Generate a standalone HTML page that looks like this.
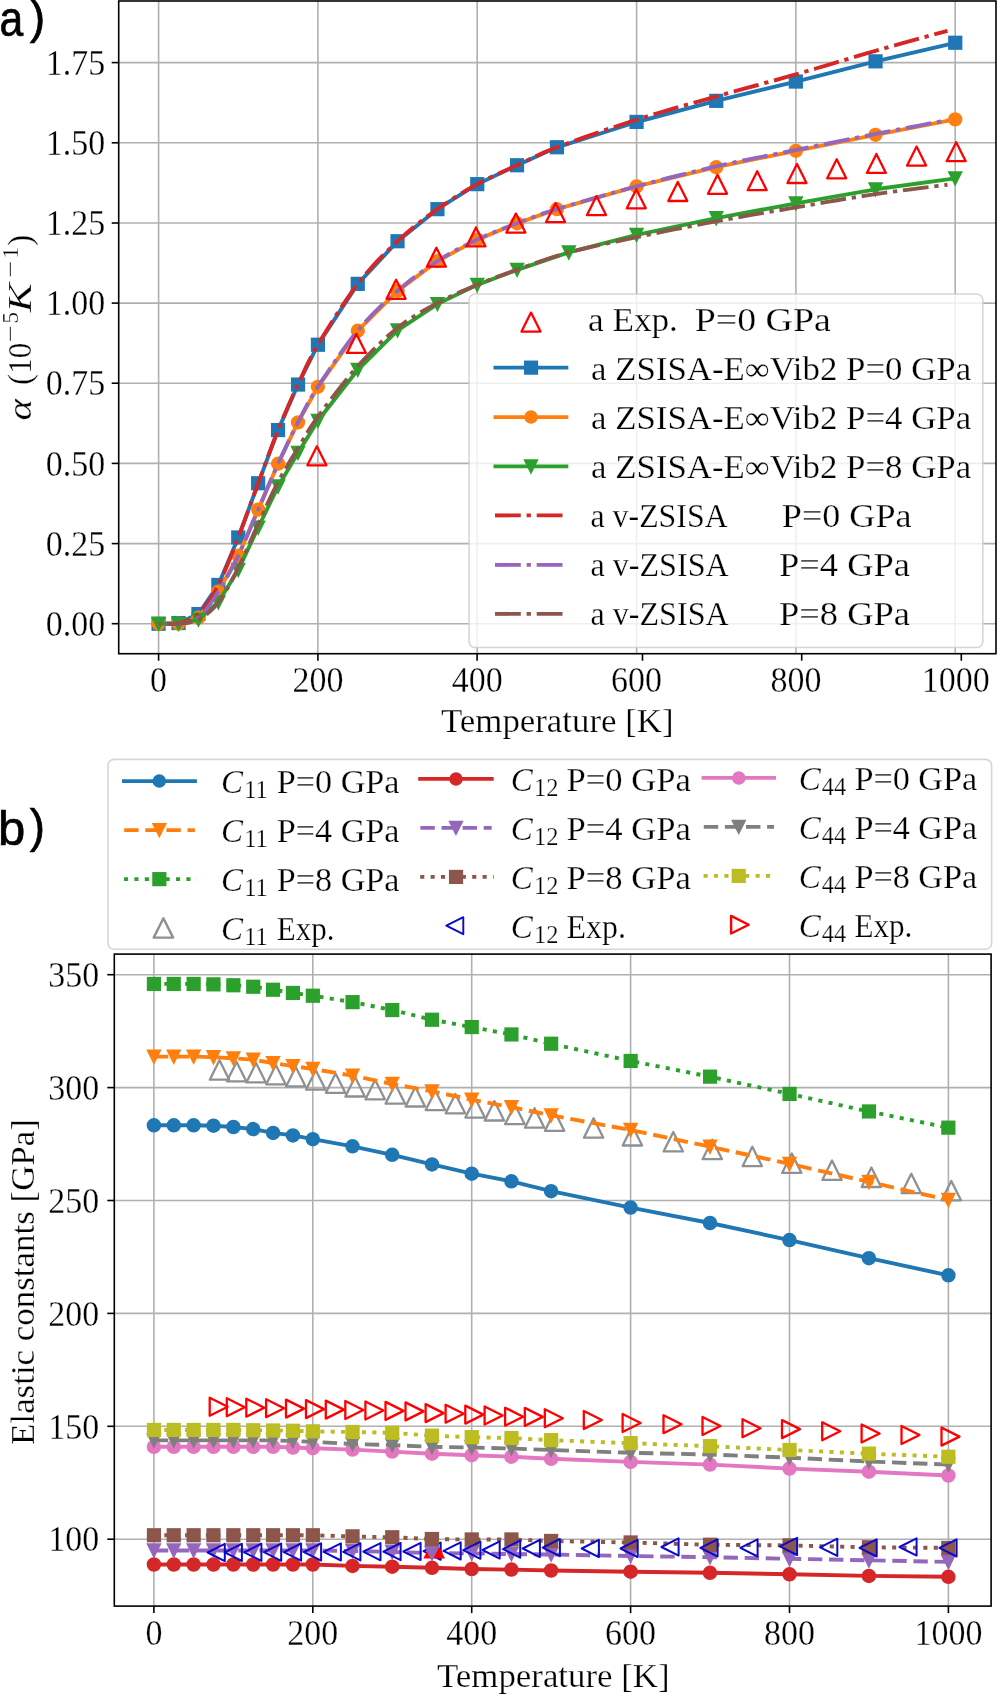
<!DOCTYPE html>
<html><head><meta charset="utf-8"><title>Thermal expansion and elastic constants</title>
<style>
html,body{margin:0;padding:0;background:#fff;}
body{width:997px;height:1696px;overflow:hidden;font-family:"Liberation Serif",serif;}
svg{display:block;will-change:transform;}
text{stroke:#fff;stroke-width:0.25px;}
</style></head><body>
<svg width="997" height="1696" viewBox="0 0 997 1696">
<defs>
<clipPath id="clipA"><rect x="118.7" y="0.8" width="877.3" height="652.9"/></clipPath>
<clipPath id="clipB"><rect x="114.3" y="954.1" width="876.8" height="652"/></clipPath>
</defs>
<rect x="0" y="0" width="997" height="1696" fill="#fff"/>
<g id="plotA">
<line x1="158.6" y1="1.0" x2="158.6" y2="653.7" stroke="#b0b0b0" stroke-width="1.6"/>
<line x1="317.9" y1="1.0" x2="317.9" y2="653.7" stroke="#b0b0b0" stroke-width="1.6"/>
<line x1="477.2" y1="1.0" x2="477.2" y2="653.7" stroke="#b0b0b0" stroke-width="1.6"/>
<line x1="636.6" y1="1.0" x2="636.6" y2="653.7" stroke="#b0b0b0" stroke-width="1.6"/>
<line x1="795.9" y1="1.0" x2="795.9" y2="653.7" stroke="#b0b0b0" stroke-width="1.6"/>
<line x1="955.2" y1="1.0" x2="955.2" y2="653.7" stroke="#b0b0b0" stroke-width="1.6"/>
<line x1="118.7" y1="623.7" x2="996.0" y2="623.7" stroke="#b0b0b0" stroke-width="1.6"/>
<line x1="118.7" y1="543.6" x2="996.0" y2="543.6" stroke="#b0b0b0" stroke-width="1.6"/>
<line x1="118.7" y1="463.4" x2="996.0" y2="463.4" stroke="#b0b0b0" stroke-width="1.6"/>
<line x1="118.7" y1="383.2" x2="996.0" y2="383.2" stroke="#b0b0b0" stroke-width="1.6"/>
<line x1="118.7" y1="303.1" x2="996.0" y2="303.1" stroke="#b0b0b0" stroke-width="1.6"/>
<line x1="118.7" y1="223" x2="996.0" y2="223" stroke="#b0b0b0" stroke-width="1.6"/>
<line x1="118.7" y1="142.8" x2="996.0" y2="142.8" stroke="#b0b0b0" stroke-width="1.6"/>
<line x1="118.7" y1="62.6" x2="996.0" y2="62.6" stroke="#b0b0b0" stroke-width="1.6"/>
<g clip-path="url(#clipA)">
<path d="M158.6 623.7 L178.5 623.1 L198.4 614.1 L218.3 584.9 L238.3 537.5 L258.2 483.3 L278.1 430.1 L298 384.5 L317.9 344.8 L357.8 283.9 L397.6 241.2 L437.4 209.2 L477.2 184.2 L517.1 165.2 L556.9 147.3 L636.6 122 L716.2 100.8 L795.9 81.6 L875.5 61.4 L955.2 42.8" fill="none" stroke="#1f77b4" stroke-width="3.9" stroke-linejoin="round" stroke-linecap="butt"/>
<rect x="152.4" y="617.6" width="12.3" height="12.3" fill="#1f77b4" stroke="#1f77b4" stroke-width="1.9"/>
<rect x="172.4" y="616.9" width="12.3" height="12.3" fill="#1f77b4" stroke="#1f77b4" stroke-width="1.9"/>
<rect x="192.3" y="607.9" width="12.3" height="12.3" fill="#1f77b4" stroke="#1f77b4" stroke-width="1.9"/>
<rect x="212.2" y="578.8" width="12.3" height="12.3" fill="#1f77b4" stroke="#1f77b4" stroke-width="1.9"/>
<rect x="232.1" y="531.3" width="12.3" height="12.3" fill="#1f77b4" stroke="#1f77b4" stroke-width="1.9"/>
<rect x="252" y="477.1" width="12.3" height="12.3" fill="#1f77b4" stroke="#1f77b4" stroke-width="1.9"/>
<rect x="271.9" y="423.9" width="12.3" height="12.3" fill="#1f77b4" stroke="#1f77b4" stroke-width="1.9"/>
<rect x="291.9" y="378.4" width="12.3" height="12.3" fill="#1f77b4" stroke="#1f77b4" stroke-width="1.9"/>
<rect x="311.8" y="338.6" width="12.3" height="12.3" fill="#1f77b4" stroke="#1f77b4" stroke-width="1.9"/>
<rect x="351.6" y="277.7" width="12.3" height="12.3" fill="#1f77b4" stroke="#1f77b4" stroke-width="1.9"/>
<rect x="391.4" y="235.1" width="12.3" height="12.3" fill="#1f77b4" stroke="#1f77b4" stroke-width="1.9"/>
<rect x="431.3" y="203" width="12.3" height="12.3" fill="#1f77b4" stroke="#1f77b4" stroke-width="1.9"/>
<rect x="471.1" y="178" width="12.3" height="12.3" fill="#1f77b4" stroke="#1f77b4" stroke-width="1.9"/>
<rect x="510.9" y="159.1" width="12.3" height="12.3" fill="#1f77b4" stroke="#1f77b4" stroke-width="1.9"/>
<rect x="550.8" y="141.1" width="12.3" height="12.3" fill="#1f77b4" stroke="#1f77b4" stroke-width="1.9"/>
<rect x="630.4" y="115.8" width="12.3" height="12.3" fill="#1f77b4" stroke="#1f77b4" stroke-width="1.9"/>
<rect x="710.1" y="94.7" width="12.3" height="12.3" fill="#1f77b4" stroke="#1f77b4" stroke-width="1.9"/>
<rect x="789.7" y="75.4" width="12.3" height="12.3" fill="#1f77b4" stroke="#1f77b4" stroke-width="1.9"/>
<rect x="869.4" y="55.2" width="12.3" height="12.3" fill="#1f77b4" stroke="#1f77b4" stroke-width="1.9"/>
<rect x="949.1" y="36.6" width="12.3" height="12.3" fill="#1f77b4" stroke="#1f77b4" stroke-width="1.9"/>
<path d="M158.6 623.7 L178.5 623.7 L198.4 617.6 L218.3 591.6 L238.3 555.7 L258.2 509.6 L278.1 463.7 L298 422.4 L317.9 386.8 L357.8 330.7 L397.6 290.9 L437.4 261.1 L477.2 239.6 L517.1 223.3 L556.9 209.2 L636.6 186.4 L716.2 167.2 L795.9 150.8 L875.5 134.8 L955.2 119.4" fill="none" stroke="#ff7f0e" stroke-width="3.9" stroke-linejoin="round" stroke-linecap="butt"/>
<circle cx="158.6" cy="623.7" r="6.2" fill="#ff7f0e" stroke="#ff7f0e" stroke-width="1.9"/>
<circle cx="178.5" cy="623.7" r="6.2" fill="#ff7f0e" stroke="#ff7f0e" stroke-width="1.9"/>
<circle cx="198.4" cy="617.6" r="6.2" fill="#ff7f0e" stroke="#ff7f0e" stroke-width="1.9"/>
<circle cx="218.3" cy="591.6" r="6.2" fill="#ff7f0e" stroke="#ff7f0e" stroke-width="1.9"/>
<circle cx="238.3" cy="555.7" r="6.2" fill="#ff7f0e" stroke="#ff7f0e" stroke-width="1.9"/>
<circle cx="258.2" cy="509.6" r="6.2" fill="#ff7f0e" stroke="#ff7f0e" stroke-width="1.9"/>
<circle cx="278.1" cy="463.7" r="6.2" fill="#ff7f0e" stroke="#ff7f0e" stroke-width="1.9"/>
<circle cx="298" cy="422.4" r="6.2" fill="#ff7f0e" stroke="#ff7f0e" stroke-width="1.9"/>
<circle cx="317.9" cy="386.8" r="6.2" fill="#ff7f0e" stroke="#ff7f0e" stroke-width="1.9"/>
<circle cx="357.8" cy="330.7" r="6.2" fill="#ff7f0e" stroke="#ff7f0e" stroke-width="1.9"/>
<circle cx="397.6" cy="290.9" r="6.2" fill="#ff7f0e" stroke="#ff7f0e" stroke-width="1.9"/>
<circle cx="437.4" cy="261.1" r="6.2" fill="#ff7f0e" stroke="#ff7f0e" stroke-width="1.9"/>
<circle cx="477.2" cy="239.6" r="6.2" fill="#ff7f0e" stroke="#ff7f0e" stroke-width="1.9"/>
<circle cx="517.1" cy="223.3" r="6.2" fill="#ff7f0e" stroke="#ff7f0e" stroke-width="1.9"/>
<circle cx="556.9" cy="209.2" r="6.2" fill="#ff7f0e" stroke="#ff7f0e" stroke-width="1.9"/>
<circle cx="636.6" cy="186.4" r="6.2" fill="#ff7f0e" stroke="#ff7f0e" stroke-width="1.9"/>
<circle cx="716.2" cy="167.2" r="6.2" fill="#ff7f0e" stroke="#ff7f0e" stroke-width="1.9"/>
<circle cx="795.9" cy="150.8" r="6.2" fill="#ff7f0e" stroke="#ff7f0e" stroke-width="1.9"/>
<circle cx="875.5" cy="134.8" r="6.2" fill="#ff7f0e" stroke="#ff7f0e" stroke-width="1.9"/>
<circle cx="955.2" cy="119.4" r="6.2" fill="#ff7f0e" stroke="#ff7f0e" stroke-width="1.9"/>
<path d="M158.6 623.7 L178.5 623.7 L198.4 619.5 L218.3 602.2 L238.3 569.8 L258.2 527.5 L278.1 486.5 L298 452.8 L317.9 420.8 L357.8 369.8 L397.6 330.4 L437.4 304.1 L477.2 284.8 L517.1 269.8 L568.8 252.4 L636.6 234.8 L716.2 218.1 L795.9 203.4 L875.5 189.3 L955.2 178.4" fill="none" stroke="#2ca02c" stroke-width="3.9" stroke-linejoin="round" stroke-linecap="butt"/>
<path d="M158.6 629.9L152.4 617.6L164.8 617.6Z" fill="#2ca02c" stroke="#2ca02c" stroke-width="1.9" stroke-linejoin="miter"/>
<path d="M178.5 629.9L172.4 617.6L184.7 617.6Z" fill="#2ca02c" stroke="#2ca02c" stroke-width="1.9" stroke-linejoin="miter"/>
<path d="M198.4 625.7L192.3 613.4L204.6 613.4Z" fill="#2ca02c" stroke="#2ca02c" stroke-width="1.9" stroke-linejoin="miter"/>
<path d="M218.3 608.4L212.2 596.1L224.5 596.1Z" fill="#2ca02c" stroke="#2ca02c" stroke-width="1.9" stroke-linejoin="miter"/>
<path d="M238.3 576L232.1 563.7L244.4 563.7Z" fill="#2ca02c" stroke="#2ca02c" stroke-width="1.9" stroke-linejoin="miter"/>
<path d="M258.2 533.7L252 521.4L264.3 521.4Z" fill="#2ca02c" stroke="#2ca02c" stroke-width="1.9" stroke-linejoin="miter"/>
<path d="M278.1 492.6L271.9 480.3L284.2 480.3Z" fill="#2ca02c" stroke="#2ca02c" stroke-width="1.9" stroke-linejoin="miter"/>
<path d="M298 459L291.9 446.7L304.2 446.7Z" fill="#2ca02c" stroke="#2ca02c" stroke-width="1.9" stroke-linejoin="miter"/>
<path d="M317.9 426.9L311.8 414.6L324.1 414.6Z" fill="#2ca02c" stroke="#2ca02c" stroke-width="1.9" stroke-linejoin="miter"/>
<path d="M357.8 375.9L351.6 363.6L363.9 363.6Z" fill="#2ca02c" stroke="#2ca02c" stroke-width="1.9" stroke-linejoin="miter"/>
<path d="M397.6 336.5L391.4 324.2L403.7 324.2Z" fill="#2ca02c" stroke="#2ca02c" stroke-width="1.9" stroke-linejoin="miter"/>
<path d="M437.4 310.2L431.3 297.9L443.6 297.9Z" fill="#2ca02c" stroke="#2ca02c" stroke-width="1.9" stroke-linejoin="miter"/>
<path d="M477.2 291L471.1 278.7L483.4 278.7Z" fill="#2ca02c" stroke="#2ca02c" stroke-width="1.9" stroke-linejoin="miter"/>
<path d="M517.1 275.9L510.9 263.6L523.2 263.6Z" fill="#2ca02c" stroke="#2ca02c" stroke-width="1.9" stroke-linejoin="miter"/>
<path d="M568.8 258.6L562.7 246.3L575 246.3Z" fill="#2ca02c" stroke="#2ca02c" stroke-width="1.9" stroke-linejoin="miter"/>
<path d="M636.6 241L630.4 228.7L642.7 228.7Z" fill="#2ca02c" stroke="#2ca02c" stroke-width="1.9" stroke-linejoin="miter"/>
<path d="M716.2 224.3L710.1 212L722.4 212Z" fill="#2ca02c" stroke="#2ca02c" stroke-width="1.9" stroke-linejoin="miter"/>
<path d="M795.9 209.5L789.7 197.2L802 197.2Z" fill="#2ca02c" stroke="#2ca02c" stroke-width="1.9" stroke-linejoin="miter"/>
<path d="M875.5 195.4L869.4 183.1L881.7 183.1Z" fill="#2ca02c" stroke="#2ca02c" stroke-width="1.9" stroke-linejoin="miter"/>
<path d="M955.2 184.5L949.1 172.2L961.4 172.2Z" fill="#2ca02c" stroke="#2ca02c" stroke-width="1.9" stroke-linejoin="miter"/>
<path d="M947.5 30.9 L940.9 32.7 L931.2 35.3 L920.3 38.3 L908.9 41.4 L897.3 44.6 L886 47.8 L875.5 50.8 L865.6 53.7 L855.6 56.6 L845.7 59.6 L835.7 62.6 L825.8 65.6 L815.8 68.5 L805.8 71.5 L795.9 74.4 L785.9 77.2 L776 80 L766 82.7 L756 85.5 L746.1 88.2 L736.1 90.9 L726.2 93.7 L716.2 96.5 L706.3 99.3 L696.3 102.1 L686.3 104.9 L676.4 107.7 L666.4 110.6 L656.5 113.5 L646.5 116.5 L636.6 119.7 L626.3 123 L615.7 126.5 L604.9 130.1 L594.2 133.8 L583.9 137.4 L574 141 L565 144.3 L556.9 147.3 L550 150 L544.1 152.4 L539 154.7 L534.5 156.8 L530.3 158.9 L526.1 160.9 L521.8 163 L517.1 165.2 L512.1 167.5 L507.1 169.8 L502.1 172 L497.2 174.3 L492.2 176.6 L487.2 179 L482.2 181.5 L477.2 184.2 L472.3 186.9 L467.3 189.8 L462.3 192.8 L457.3 195.8 L452.3 199 L447.4 202.3 L442.4 205.7 L437.4 209.2 L432.4 212.8 L427.5 216.4 L422.5 220.2 L417.5 224.1 L412.5 228.1 L407.5 232.3 L402.6 236.7 L397.6 241.2 L392.6 245.9 L387.6 250.7 L382.6 255.6 L377.7 260.7 L372.7 266.1 L367.7 271.7 L362.7 277.6 L357.7 283.9 L352.6 290.7 L347.3 298.3 L341.9 306.3 L336.6 314.5 L331.4 322.7 L326.5 330.6 L321.9 338.1 L317.9 344.8 L314.5 350.7 L311.5 356.1 L309 361 L306.7 365.6 L304.6 370.1 L302.5 374.7 L300.4 379.4 L298 384.5 L295.5 389.9 L293 395.3 L290.5 400.8 L288 406.5 L285.6 412.2 L283.1 418 L280.6 424 L278.1 430.1 L275.6 436.3 L273.1 442.8 L270.6 449.4 L268.1 456.1 L265.6 462.9 L263.2 469.7 L260.7 476.5 L258.2 483.3 L255.7 490 L253.2 496.9 L250.7 503.8 L248.2 510.7 L245.7 517.6 L243.2 524.4 L240.7 531 L238.3 537.5 L235.8 543.8 L233.3 550.2 L230.8 556.5 L228.3 562.7 L225.8 568.7 L223.3 574.5 L220.8 579.9 L218.3 584.9 L215.9 589.6 L213.4 594 L210.9 598.1 L208.4 601.9 L205.9 605.4 L203.4 608.6 L200.9 611.5 L198.4 614.1 L195.9 616.2 L193.5 617.9 L191 619.3 L188.5 620.4 L186 621.2 L183.5 621.9 L181 622.5 L178.5 623.1 L175.9 623.5 L173.1 623.8 L170.2 623.9 L167.3 623.9 L164.6 623.9 L162.2 623.8 L160.1 623.7 L158.6 623.7" fill="none" stroke="#d62728" stroke-width="3.9" stroke-dasharray="25.8 5.8 4.3 5.8" stroke-linejoin="round" stroke-linecap="butt" stroke-dashoffset="12.1"/>
<path d="M947.5 120.1 L940.9 121.3 L931.2 123.2 L920.3 125.3 L908.9 127.5 L897.3 129.7 L886 131.9 L875.5 134 L865.6 136 L855.6 137.9 L845.7 139.9 L835.7 141.9 L825.8 144 L815.8 146 L805.8 148 L795.9 150 L785.9 152 L776 154 L766 156 L756 157.9 L746.1 160 L736.1 162 L726.2 164.1 L716.2 166.4 L706.3 168.7 L696.3 171.1 L686.3 173.5 L676.4 176 L666.4 178.5 L656.5 181.1 L646.5 183.7 L636.6 186.4 L626.3 189.2 L615.7 192.1 L604.9 195.1 L594.2 198.2 L583.9 201.1 L574 204 L565 206.7 L556.9 209.2 L550 211.3 L544.1 213.2 L539 215 L534.5 216.6 L530.3 218.2 L526.1 219.8 L521.8 221.5 L517.1 223.3 L512.1 225.2 L507.1 227.1 L502.1 229 L497.2 231 L492.2 233 L487.2 235.1 L482.2 237.3 L477.2 239.6 L472.3 242 L467.3 244.4 L462.3 246.9 L457.3 249.5 L452.3 252.2 L447.4 255 L442.4 258 L437.4 261.1 L432.4 264.4 L427.5 267.7 L422.5 271.2 L417.5 274.9 L412.5 278.6 L407.5 282.6 L402.6 286.7 L397.6 290.9 L392.6 295.3 L387.6 299.8 L382.6 304.4 L377.7 309.2 L372.7 314.1 L367.7 319.4 L362.7 324.9 L357.7 330.7 L352.6 337 L347.3 344 L341.9 351.4 L336.6 359 L331.4 366.5 L326.5 373.8 L321.9 380.6 L317.9 386.8 L314.5 392.2 L311.5 397 L309 401.4 L306.7 405.5 L304.6 409.5 L302.5 413.5 L300.4 417.8 L298 422.4 L295.5 427.2 L293 432.2 L290.5 437.3 L288 442.4 L285.6 447.6 L283.1 452.9 L280.6 458.3 L278.1 463.7 L275.6 469.2 L273.1 474.9 L270.6 480.6 L268.1 486.3 L265.6 492.2 L263.2 498 L260.7 503.8 L258.2 509.6 L255.7 515.4 L253.2 521.3 L250.7 527.3 L248.2 533.3 L245.7 539.2 L243.2 544.9 L240.7 550.5 L238.3 555.7 L235.8 560.8 L233.3 565.7 L230.8 570.4 L228.3 574.9 L225.8 579.4 L223.3 583.6 L220.8 587.7 L218.3 591.6 L215.9 595.5 L213.4 599.3 L210.9 603 L208.4 606.5 L205.9 609.8 L203.4 612.7 L200.9 615.4 L198.4 617.6 L195.9 619.4 L193.5 620.7 L191 621.6 L188.5 622.3 L186 622.7 L183.5 623.1 L181 623.4 L178.5 623.7 L175.9 624 L173.1 624.1 L170.2 624.1 L167.3 624.1 L164.6 624 L162.2 623.8 L160.1 623.7 L158.6 623.7" fill="none" stroke="#9467bd" stroke-width="3.9" stroke-dasharray="25.8 5.8 4.3 5.8" stroke-linejoin="round" stroke-linecap="butt" stroke-dashoffset="25.1"/>
<path d="M947.5 184.8 L940.9 185.6 L931.2 186.8 L920.3 188.1 L908.9 189.6 L897.3 191.1 L886 192.6 L875.5 194.1 L865.6 195.6 L855.6 197.2 L845.7 198.8 L835.7 200.5 L825.8 202.2 L815.8 204 L805.8 205.7 L795.9 207.4 L785.9 209.1 L776 210.8 L766 212.5 L756 214.2 L746.1 215.9 L736.1 217.7 L726.2 219.5 L716.2 221.3 L706.2 223.2 L696 225.2 L685.8 227.2 L675.6 229.2 L665.6 231.2 L655.6 233.2 L645.9 235.2 L636.6 237.2 L627.4 239.1 L618.4 241 L609.6 242.9 L601 244.7 L592.5 246.6 L584.4 248.5 L576.5 250.4 L568.8 252.4 L561.5 254.5 L554.5 256.7 L547.7 258.9 L541.2 261.1 L534.9 263.3 L528.8 265.5 L522.9 267.7 L517.1 269.8 L511.5 271.7 L506.3 273.6 L501.3 275.4 L496.4 277.2 L491.7 279 L486.9 280.9 L482.1 282.8 L477.2 284.8 L472.3 286.9 L467.3 289 L462.3 291.1 L457.3 293.3 L452.3 295.6 L447.4 298 L442.4 300.4 L437.4 303.1 L432.4 305.8 L427.5 308.5 L422.5 311.3 L417.5 314.2 L412.5 317.3 L407.5 320.5 L402.6 324.1 L397.6 327.9 L392.6 331.9 L387.6 336.2 L382.6 340.7 L377.7 345.5 L372.7 350.4 L367.7 355.5 L362.7 360.8 L357.7 366.3 L352.6 372.1 L347.3 378.5 L341.9 385.2 L336.6 392 L331.4 398.7 L326.5 405.2 L321.9 411.3 L317.9 416.8 L314.5 421.6 L311.5 425.9 L309 429.9 L306.7 433.6 L304.6 437.2 L302.5 440.7 L300.4 444.4 L298 448.3 L295.5 452.4 L293 456.4 L290.5 460.4 L288 464.5 L285.6 468.7 L283.1 472.9 L280.6 477.4 L278.1 482 L275.6 486.8 L273.1 491.9 L270.6 497.1 L268.1 502.4 L265.6 507.8 L263.2 513.2 L260.7 518.6 L258.2 524 L255.7 529.5 L253.2 535.1 L250.7 540.7 L248.2 546.4 L245.7 552 L243.2 557.5 L240.7 562.8 L238.3 567.8 L235.8 572.7 L233.3 577.5 L230.8 582.2 L228.3 586.7 L225.8 591 L223.3 595 L220.8 598.8 L218.3 602.2 L215.9 605.3 L213.4 608.1 L210.9 610.5 L208.4 612.8 L205.9 614.8 L203.4 616.5 L200.9 618.1 L198.4 619.5 L195.9 620.7 L193.5 621.6 L191 622.2 L188.5 622.7 L186 623 L183.5 623.3 L181 623.5 L178.5 623.7 L175.9 623.9 L173.1 624 L170.2 624 L167.3 624 L164.6 623.9 L162.2 623.8 L160.1 623.7 L158.6 623.7" fill="none" stroke="#8c564b" stroke-width="3.9" stroke-dasharray="25.8 5.8 4.3 5.8" stroke-linejoin="round" stroke-linecap="butt" stroke-dashoffset="22.6"/>
<path d="M316.9 446.3L307.4 465.3L326.4 465.3Z" fill="none" stroke="#ff0000" stroke-width="2.3" stroke-linejoin="round"/>
<path d="M356.4 333.9L346.9 352.9L365.9 352.9Z" fill="none" stroke="#ff0000" stroke-width="2.3" stroke-linejoin="round"/>
<path d="M396.1 279.8L386.6 298.8L405.6 298.8Z" fill="none" stroke="#ff0000" stroke-width="2.3" stroke-linejoin="round"/>
<path d="M436.4 247.7L426.9 266.7L445.9 266.7Z" fill="none" stroke="#ff0000" stroke-width="2.3" stroke-linejoin="round"/>
<path d="M476 227.4L466.5 246.4L485.5 246.4Z" fill="none" stroke="#ff0000" stroke-width="2.3" stroke-linejoin="round"/>
<path d="M515.9 213.6L506.4 232.6L525.4 232.6Z" fill="none" stroke="#ff0000" stroke-width="2.3" stroke-linejoin="round"/>
<path d="M555.6 203.1L546.1 222.1L565.1 222.1Z" fill="none" stroke="#ff0000" stroke-width="2.3" stroke-linejoin="round"/>
<path d="M596.5 196.1L587 215.1L606 215.1Z" fill="none" stroke="#ff0000" stroke-width="2.3" stroke-linejoin="round"/>
<path d="M636.3 189.3L626.8 208.3L645.8 208.3Z" fill="none" stroke="#ff0000" stroke-width="2.3" stroke-linejoin="round"/>
<path d="M677.8 182L668.3 201L687.3 201Z" fill="none" stroke="#ff0000" stroke-width="2.3" stroke-linejoin="round"/>
<path d="M717.5 174.8L708 193.8L727 193.8Z" fill="none" stroke="#ff0000" stroke-width="2.3" stroke-linejoin="round"/>
<path d="M757.2 171.2L747.7 190.2L766.7 190.2Z" fill="none" stroke="#ff0000" stroke-width="2.3" stroke-linejoin="round"/>
<path d="M797 164L787.5 183L806.5 183Z" fill="none" stroke="#ff0000" stroke-width="2.3" stroke-linejoin="round"/>
<path d="M836.7 159.3L827.2 178.3L846.2 178.3Z" fill="none" stroke="#ff0000" stroke-width="2.3" stroke-linejoin="round"/>
<path d="M876.4 153.9L866.9 172.9L885.9 172.9Z" fill="none" stroke="#ff0000" stroke-width="2.3" stroke-linejoin="round"/>
<path d="M916.6 146.6L907.1 165.6L926.1 165.6Z" fill="none" stroke="#ff0000" stroke-width="2.3" stroke-linejoin="round"/>
<path d="M956.2 142.2L946.7 161.2L965.7 161.2Z" fill="none" stroke="#ff0000" stroke-width="2.3" stroke-linejoin="round"/>
</g>
<rect x="469.1" y="294" width="513.7" height="353.5" rx="6" ry="6" fill="#ffffff" fill-opacity="0.8" stroke="#cccccc" stroke-opacity="0.8" stroke-width="1.6"/>
<path d="M531 312.6L521.5 331.6L540.5 331.6Z" fill="none" stroke="#ff0000" stroke-width="2.3" stroke-linejoin="round"/>
<line x1="493.5" y1="367.6" x2="568.3" y2="367.6" stroke="#1f77b4" stroke-width="3.9"/>
<rect x="524.9" y="361.5" width="12.3" height="12.3" fill="#1f77b4" stroke="#1f77b4" stroke-width="1.9"/>
<line x1="493.5" y1="417.1" x2="568.3" y2="417.1" stroke="#ff7f0e" stroke-width="3.9"/>
<circle cx="531" cy="417.1" r="5.8" fill="#ff7f0e" stroke="#ff7f0e" stroke-width="1.9"/>
<line x1="493.5" y1="466.4" x2="568.3" y2="466.4" stroke="#2ca02c" stroke-width="3.9"/>
<path d="M531 472.5L524.9 460.2L537.1 460.2Z" fill="#2ca02c" stroke="#2ca02c" stroke-width="1.9" stroke-linejoin="miter"/>
<line x1="495.0" y1="515.4" x2="562.7" y2="515.4" stroke="#d62728" stroke-width="3.9" stroke-dasharray="25.8 5.8 4.3 5.8" stroke-dashoffset="0"/>
<line x1="495.0" y1="564.9" x2="562.7" y2="564.9" stroke="#9467bd" stroke-width="3.9" stroke-dasharray="25.8 5.8 4.3 5.8" stroke-dashoffset="0"/>
<line x1="495.0" y1="613.9" x2="562.7" y2="613.9" stroke="#8c564b" stroke-width="3.9" stroke-dasharray="25.8 5.8 4.3 5.8" stroke-dashoffset="0"/>
<text x="588" y="330.5" font-family='"Liberation Serif", serif' font-size="33" textLength="89.9" lengthAdjust="spacingAndGlyphs">a Exp.</text>
<text x="694.8" y="330.5" font-family='"Liberation Serif", serif' font-size="33" textLength="136" lengthAdjust="spacingAndGlyphs">P=0 GPa</text>
<text x="591" y="380" font-family='"Liberation Serif", serif' font-size="33" textLength="380.2" lengthAdjust="spacingAndGlyphs">a ZSISA-E∞Vib2 P=0 GPa</text>
<text x="591" y="428.5" font-family='"Liberation Serif", serif' font-size="33" textLength="380.2" lengthAdjust="spacingAndGlyphs">a ZSISA-E∞Vib2 P=4 GPa</text>
<text x="591" y="478.3" font-family='"Liberation Serif", serif' font-size="33" textLength="380.2" lengthAdjust="spacingAndGlyphs">a ZSISA-E∞Vib2 P=8 GPa</text>
<text x="590.5" y="526.9" font-family='"Liberation Serif", serif' font-size="33" textLength="137.2" lengthAdjust="spacingAndGlyphs">a v-ZSISA</text>
<text x="781.8" y="526.9" font-family='"Liberation Serif", serif' font-size="33" textLength="129.8" lengthAdjust="spacingAndGlyphs">P=0 GPa</text>
<text x="590.5" y="576" font-family='"Liberation Serif", serif' font-size="33" textLength="138.2" lengthAdjust="spacingAndGlyphs">a v-ZSISA</text>
<text x="779" y="576" font-family='"Liberation Serif", serif' font-size="33" textLength="130.9" lengthAdjust="spacingAndGlyphs">P=4 GPa</text>
<text x="590.5" y="625.1" font-family='"Liberation Serif", serif' font-size="33" textLength="138.2" lengthAdjust="spacingAndGlyphs">a v-ZSISA</text>
<text x="779" y="625.1" font-family='"Liberation Serif", serif' font-size="33" textLength="130.9" lengthAdjust="spacingAndGlyphs">P=8 GPa</text>
<rect x="118.7" y="1" width="877.3" height="652.7" fill="none" stroke="#000" stroke-width="1.6"/>
<line x1="158.6" y1="653.7" x2="158.6" y2="660.7" stroke="#000" stroke-width="1.6"/>
<g transform="translate(158.6 692.3) scale(1.03 1.07)"><text x="0" y="0" font-family='"Liberation Serif", serif' font-size="33" text-anchor="middle">0</text></g>
<line x1="317.9" y1="653.7" x2="317.9" y2="660.7" stroke="#000" stroke-width="1.6"/>
<g transform="translate(317.9 692.3) scale(1.03 1.07)"><text x="0" y="0" font-family='"Liberation Serif", serif' font-size="33" text-anchor="middle">200</text></g>
<line x1="477.1" y1="653.7" x2="477.1" y2="660.7" stroke="#000" stroke-width="1.6"/>
<g transform="translate(477.2 692.3) scale(1.03 1.07)"><text x="0" y="0" font-family='"Liberation Serif", serif' font-size="33" text-anchor="middle">400</text></g>
<line x1="642.5" y1="653.7" x2="642.5" y2="660.7" stroke="#000" stroke-width="1.6"/>
<g transform="translate(636.6 692.3) scale(1.03 1.07)"><text x="0" y="0" font-family='"Liberation Serif", serif' font-size="33" text-anchor="middle">600</text></g>
<line x1="801.7" y1="653.7" x2="801.7" y2="660.7" stroke="#000" stroke-width="1.6"/>
<g transform="translate(795.9 692.3) scale(1.03 1.07)"><text x="0" y="0" font-family='"Liberation Serif", serif' font-size="33" text-anchor="middle">800</text></g>
<line x1="961.3" y1="653.7" x2="961.3" y2="660.7" stroke="#000" stroke-width="1.6"/>
<g transform="translate(955.8 692.3) scale(1.03 1.07)"><text x="0" y="0" font-family='"Liberation Serif", serif' font-size="33" text-anchor="middle">1000</text></g>
<line x1="111.7" y1="623.7" x2="118.7" y2="623.7" stroke="#000" stroke-width="1.6"/>
<g transform="translate(105.3 635.9) scale(1.03 1.07)"><text x="0" y="0" font-family='"Liberation Serif", serif' font-size="33" text-anchor="end">0.00</text></g>
<line x1="111.7" y1="543.6" x2="118.7" y2="543.6" stroke="#000" stroke-width="1.6"/>
<g transform="translate(105.3 555.8) scale(1.03 1.07)"><text x="0" y="0" font-family='"Liberation Serif", serif' font-size="33" text-anchor="end">0.25</text></g>
<line x1="111.7" y1="463.4" x2="118.7" y2="463.4" stroke="#000" stroke-width="1.6"/>
<g transform="translate(105.3 475.6) scale(1.03 1.07)"><text x="0" y="0" font-family='"Liberation Serif", serif' font-size="33" text-anchor="end">0.50</text></g>
<line x1="111.7" y1="383.2" x2="118.7" y2="383.2" stroke="#000" stroke-width="1.6"/>
<g transform="translate(105.3 395.4) scale(1.03 1.07)"><text x="0" y="0" font-family='"Liberation Serif", serif' font-size="33" text-anchor="end">0.75</text></g>
<line x1="111.7" y1="303.1" x2="118.7" y2="303.1" stroke="#000" stroke-width="1.6"/>
<g transform="translate(105.3 315.3) scale(1.03 1.07)"><text x="0" y="0" font-family='"Liberation Serif", serif' font-size="33" text-anchor="end">1.00</text></g>
<line x1="111.7" y1="223" x2="118.7" y2="223" stroke="#000" stroke-width="1.6"/>
<g transform="translate(105.3 235.2) scale(1.03 1.07)"><text x="0" y="0" font-family='"Liberation Serif", serif' font-size="33" text-anchor="end">1.25</text></g>
<line x1="111.7" y1="142.8" x2="118.7" y2="142.8" stroke="#000" stroke-width="1.6"/>
<g transform="translate(105.3 155) scale(1.03 1.07)"><text x="0" y="0" font-family='"Liberation Serif", serif' font-size="33" text-anchor="end">1.50</text></g>
<line x1="111.7" y1="62.6" x2="118.7" y2="62.6" stroke="#000" stroke-width="1.6"/>
<g transform="translate(105.3 74.8) scale(1.03 1.07)"><text x="0" y="0" font-family='"Liberation Serif", serif' font-size="33" text-anchor="end">1.75</text></g>
<text x="441" y="732.2" font-family='"Liberation Serif", serif' font-size="33" textLength="232.5" lengthAdjust="spacingAndGlyphs">Temperature [K]</text>
<g transform="translate(30.8 419) rotate(-90)"><text x="-1.5" y="0" font-family='"Liberation Serif", serif' font-size="33" font-style="italic" textLength="21.5" lengthAdjust="spacingAndGlyphs">α</text><text x="34" y="0" font-family='"Liberation Serif", serif' font-size="33">(</text><text x="45.2" y="0" font-family='"Liberation Serif", serif' font-size="33" textLength="31" lengthAdjust="spacingAndGlyphs">10</text><text x="76.6" y="-13.1" font-family='"Liberation Serif", serif' font-size="23" textLength="17.6" lengthAdjust="spacingAndGlyphs">−</text><text x="95.4" y="-13.1" font-family='"Liberation Serif", serif' font-size="23">5</text><text x="106.5" y="0" font-family='"Liberation Serif", serif' font-size="33" font-style="italic" textLength="29.5" lengthAdjust="spacingAndGlyphs">K</text><text x="141" y="-13.1" font-family='"Liberation Serif", serif' font-size="23" textLength="17.6" lengthAdjust="spacingAndGlyphs">−</text><text x="160.6" y="-13.1" font-family='"Liberation Serif", serif' font-size="23">1</text><text x="173.2" y="0" font-family='"Liberation Serif", serif' font-size="33">)</text></g>
</g>
<g id="plotB">
<line x1="153.9" y1="954.1" x2="153.9" y2="1606.1" stroke="#b0b0b0" stroke-width="1.6"/>
<line x1="312.8" y1="954.1" x2="312.8" y2="1606.1" stroke="#b0b0b0" stroke-width="1.6"/>
<line x1="471.7" y1="954.1" x2="471.7" y2="1606.1" stroke="#b0b0b0" stroke-width="1.6"/>
<line x1="630.6" y1="954.1" x2="630.6" y2="1606.1" stroke="#b0b0b0" stroke-width="1.6"/>
<line x1="789.5" y1="954.1" x2="789.5" y2="1606.1" stroke="#b0b0b0" stroke-width="1.6"/>
<line x1="948.4" y1="954.1" x2="948.4" y2="1606.1" stroke="#b0b0b0" stroke-width="1.6"/>
<line x1="114.3" y1="1539.2" x2="991.1" y2="1539.2" stroke="#b0b0b0" stroke-width="1.6"/>
<line x1="114.3" y1="1426.3" x2="991.1" y2="1426.3" stroke="#b0b0b0" stroke-width="1.6"/>
<line x1="114.3" y1="1313.4" x2="991.1" y2="1313.4" stroke="#b0b0b0" stroke-width="1.6"/>
<line x1="114.3" y1="1200.5" x2="991.1" y2="1200.5" stroke="#b0b0b0" stroke-width="1.6"/>
<line x1="114.3" y1="1087.6" x2="991.1" y2="1087.6" stroke="#b0b0b0" stroke-width="1.6"/>
<line x1="114.3" y1="974.7" x2="991.1" y2="974.7" stroke="#b0b0b0" stroke-width="1.6"/>
<g clip-path="url(#clipB)">
<path d="M219.5 1060.3L209.8 1079.7L229.2 1079.7Z" fill="none" stroke="#8e9093" stroke-width="2.3" stroke-linejoin="round"/>
<path d="M236.6 1061.9L226.9 1081.3L246.3 1081.3Z" fill="none" stroke="#8e9093" stroke-width="2.3" stroke-linejoin="round"/>
<path d="M256.1 1063L246.4 1082.4L265.8 1082.4Z" fill="none" stroke="#8e9093" stroke-width="2.3" stroke-linejoin="round"/>
<path d="M275.9 1064.9L266.2 1084.3L285.6 1084.3Z" fill="none" stroke="#8e9093" stroke-width="2.3" stroke-linejoin="round"/>
<path d="M295.8 1067L286.1 1086.4L305.5 1086.4Z" fill="none" stroke="#8e9093" stroke-width="2.3" stroke-linejoin="round"/>
<path d="M315.8 1070.2L306.1 1089.6L325.5 1089.6Z" fill="none" stroke="#8e9093" stroke-width="2.3" stroke-linejoin="round"/>
<path d="M335.6 1073.4L325.9 1092.8L345.3 1092.8Z" fill="none" stroke="#8e9093" stroke-width="2.3" stroke-linejoin="round"/>
<path d="M355.1 1077.1L345.4 1096.5L364.8 1096.5Z" fill="none" stroke="#8e9093" stroke-width="2.3" stroke-linejoin="round"/>
<path d="M375.2 1079.9L365.5 1099.3L384.9 1099.3Z" fill="none" stroke="#8e9093" stroke-width="2.3" stroke-linejoin="round"/>
<path d="M395.3 1084.2L385.6 1103.6L405 1103.6Z" fill="none" stroke="#8e9093" stroke-width="2.3" stroke-linejoin="round"/>
<path d="M415.3 1087.1L405.6 1106.5L425 1106.5Z" fill="none" stroke="#8e9093" stroke-width="2.3" stroke-linejoin="round"/>
<path d="M435.4 1090.7L425.7 1110.1L445.1 1110.1Z" fill="none" stroke="#8e9093" stroke-width="2.3" stroke-linejoin="round"/>
<path d="M455.4 1093.9L445.7 1113.3L465.1 1113.3Z" fill="none" stroke="#8e9093" stroke-width="2.3" stroke-linejoin="round"/>
<path d="M475.1 1098.2L465.4 1117.6L484.8 1117.6Z" fill="none" stroke="#8e9093" stroke-width="2.3" stroke-linejoin="round"/>
<path d="M494.4 1101.1L484.7 1120.5L504.1 1120.5Z" fill="none" stroke="#8e9093" stroke-width="2.3" stroke-linejoin="round"/>
<path d="M514.9 1104.7L505.2 1124.1L524.6 1124.1Z" fill="none" stroke="#8e9093" stroke-width="2.3" stroke-linejoin="round"/>
<path d="M534.6 1108.3L524.9 1127.7L544.3 1127.7Z" fill="none" stroke="#8e9093" stroke-width="2.3" stroke-linejoin="round"/>
<path d="M554.6 1111.4L544.9 1130.8L564.3 1130.8Z" fill="none" stroke="#8e9093" stroke-width="2.3" stroke-linejoin="round"/>
<path d="M593.6 1118.3L583.9 1137.7L603.3 1137.7Z" fill="none" stroke="#8e9093" stroke-width="2.3" stroke-linejoin="round"/>
<path d="M632.4 1126.1L622.7 1145.5L642.1 1145.5Z" fill="none" stroke="#8e9093" stroke-width="2.3" stroke-linejoin="round"/>
<path d="M673.3 1132L663.6 1151.4L683 1151.4Z" fill="none" stroke="#8e9093" stroke-width="2.3" stroke-linejoin="round"/>
<path d="M712.3 1139.8L702.6 1159.2L722 1159.2Z" fill="none" stroke="#8e9093" stroke-width="2.3" stroke-linejoin="round"/>
<path d="M752.3 1146.8L742.6 1166.2L762 1166.2Z" fill="none" stroke="#8e9093" stroke-width="2.3" stroke-linejoin="round"/>
<path d="M791.8 1153.5L782.1 1172.9L801.5 1172.9Z" fill="none" stroke="#8e9093" stroke-width="2.3" stroke-linejoin="round"/>
<path d="M832 1160.5L822.3 1179.9L841.7 1179.9Z" fill="none" stroke="#8e9093" stroke-width="2.3" stroke-linejoin="round"/>
<path d="M871.4 1167.6L861.7 1187L881.1 1187Z" fill="none" stroke="#8e9093" stroke-width="2.3" stroke-linejoin="round"/>
<path d="M911.3 1173.8L901.6 1193.2L921 1193.2Z" fill="none" stroke="#8e9093" stroke-width="2.3" stroke-linejoin="round"/>
<path d="M951.3 1180.9L941.6 1200.3L961 1200.3Z" fill="none" stroke="#8e9093" stroke-width="2.3" stroke-linejoin="round"/>
<path d="M153.9 1125.3 L173.8 1125.3 L193.6 1125.3 L213.5 1125.7 L233.4 1127 L253.2 1129.1 L273.1 1132.9 L292.9 1135.4 L312.8 1139.2 L352.5 1146.3 L392.2 1154.8 L432 1164.4 L471.7 1173.7 L511.4 1181.3 L551.1 1191.2 L630.6 1207.6 L710 1223 L789.5 1240.1 L868.9 1258.2 L948.4 1275.3" fill="none" stroke="#1f77b4" stroke-width="3.9" stroke-linejoin="round" stroke-linecap="butt"/>
<circle cx="153.9" cy="1125.3" r="6.3" fill="#1f77b4" stroke="#1f77b4" stroke-width="1.9"/>
<circle cx="173.8" cy="1125.3" r="6.3" fill="#1f77b4" stroke="#1f77b4" stroke-width="1.9"/>
<circle cx="193.6" cy="1125.3" r="6.3" fill="#1f77b4" stroke="#1f77b4" stroke-width="1.9"/>
<circle cx="213.5" cy="1125.7" r="6.3" fill="#1f77b4" stroke="#1f77b4" stroke-width="1.9"/>
<circle cx="233.4" cy="1127" r="6.3" fill="#1f77b4" stroke="#1f77b4" stroke-width="1.9"/>
<circle cx="253.2" cy="1129.1" r="6.3" fill="#1f77b4" stroke="#1f77b4" stroke-width="1.9"/>
<circle cx="273.1" cy="1132.9" r="6.3" fill="#1f77b4" stroke="#1f77b4" stroke-width="1.9"/>
<circle cx="292.9" cy="1135.4" r="6.3" fill="#1f77b4" stroke="#1f77b4" stroke-width="1.9"/>
<circle cx="312.8" cy="1139.2" r="6.3" fill="#1f77b4" stroke="#1f77b4" stroke-width="1.9"/>
<circle cx="352.5" cy="1146.3" r="6.3" fill="#1f77b4" stroke="#1f77b4" stroke-width="1.9"/>
<circle cx="392.2" cy="1154.8" r="6.3" fill="#1f77b4" stroke="#1f77b4" stroke-width="1.9"/>
<circle cx="432" cy="1164.4" r="6.3" fill="#1f77b4" stroke="#1f77b4" stroke-width="1.9"/>
<circle cx="471.7" cy="1173.7" r="6.3" fill="#1f77b4" stroke="#1f77b4" stroke-width="1.9"/>
<circle cx="511.4" cy="1181.3" r="6.3" fill="#1f77b4" stroke="#1f77b4" stroke-width="1.9"/>
<circle cx="551.1" cy="1191.2" r="6.3" fill="#1f77b4" stroke="#1f77b4" stroke-width="1.9"/>
<circle cx="630.6" cy="1207.6" r="6.3" fill="#1f77b4" stroke="#1f77b4" stroke-width="1.9"/>
<circle cx="710" cy="1223" r="6.3" fill="#1f77b4" stroke="#1f77b4" stroke-width="1.9"/>
<circle cx="789.5" cy="1240.1" r="6.3" fill="#1f77b4" stroke="#1f77b4" stroke-width="1.9"/>
<circle cx="868.9" cy="1258.2" r="6.3" fill="#1f77b4" stroke="#1f77b4" stroke-width="1.9"/>
<circle cx="948.4" cy="1275.3" r="6.3" fill="#1f77b4" stroke="#1f77b4" stroke-width="1.9"/>
<path d="M153.9 1056.6 L173.8 1056.6 L193.6 1056.6 L213.5 1057.2 L233.4 1058.3 L253.2 1059.7 L273.1 1063.1 L292.9 1066.1 L312.8 1069 L352.5 1075.7 L392.2 1084 L432 1091.3 L471.7 1099.7 L511.4 1107.2 L551.1 1115.3 L630.6 1130 L710 1146.7 L789.5 1163.8 L868.9 1181.9 L948.4 1200" fill="none" stroke="#ff7f0e" stroke-width="3.9" stroke-dasharray="14.4 6.7" stroke-linejoin="round" stroke-linecap="butt"/>
<path d="M153.9 1062.8L147.8 1050.4L160.1 1050.4Z" fill="#ff7f0e" stroke="#ff7f0e" stroke-width="1.9" stroke-linejoin="miter"/>
<path d="M173.8 1062.8L167.6 1050.4L179.9 1050.4Z" fill="#ff7f0e" stroke="#ff7f0e" stroke-width="1.9" stroke-linejoin="miter"/>
<path d="M193.6 1062.8L187.5 1050.4L199.8 1050.4Z" fill="#ff7f0e" stroke="#ff7f0e" stroke-width="1.9" stroke-linejoin="miter"/>
<path d="M213.5 1063.4L207.3 1051L219.6 1051Z" fill="#ff7f0e" stroke="#ff7f0e" stroke-width="1.9" stroke-linejoin="miter"/>
<path d="M233.4 1064.5L227.2 1052.1L239.5 1052.1Z" fill="#ff7f0e" stroke="#ff7f0e" stroke-width="1.9" stroke-linejoin="miter"/>
<path d="M253.2 1065.9L247.1 1053.5L259.4 1053.5Z" fill="#ff7f0e" stroke="#ff7f0e" stroke-width="1.9" stroke-linejoin="miter"/>
<path d="M273.1 1069.2L266.9 1056.9L279.2 1056.9Z" fill="#ff7f0e" stroke="#ff7f0e" stroke-width="1.9" stroke-linejoin="miter"/>
<path d="M292.9 1072.2L286.8 1059.9L299.1 1059.9Z" fill="#ff7f0e" stroke="#ff7f0e" stroke-width="1.9" stroke-linejoin="miter"/>
<path d="M312.8 1075.2L306.7 1062.8L318.9 1062.8Z" fill="#ff7f0e" stroke="#ff7f0e" stroke-width="1.9" stroke-linejoin="miter"/>
<path d="M352.5 1081.9L346.4 1069.5L358.7 1069.5Z" fill="#ff7f0e" stroke="#ff7f0e" stroke-width="1.9" stroke-linejoin="miter"/>
<path d="M392.2 1090.2L386.1 1077.8L398.4 1077.8Z" fill="#ff7f0e" stroke="#ff7f0e" stroke-width="1.9" stroke-linejoin="miter"/>
<path d="M432 1097.5L425.8 1085.1L438.1 1085.1Z" fill="#ff7f0e" stroke="#ff7f0e" stroke-width="1.9" stroke-linejoin="miter"/>
<path d="M471.7 1105.9L465.6 1093.5L477.9 1093.5Z" fill="#ff7f0e" stroke="#ff7f0e" stroke-width="1.9" stroke-linejoin="miter"/>
<path d="M511.4 1113.4L505.3 1101L517.6 1101Z" fill="#ff7f0e" stroke="#ff7f0e" stroke-width="1.9" stroke-linejoin="miter"/>
<path d="M551.1 1121.5L545 1109.1L557.3 1109.1Z" fill="#ff7f0e" stroke="#ff7f0e" stroke-width="1.9" stroke-linejoin="miter"/>
<path d="M630.6 1136.2L624.5 1123.8L636.8 1123.8Z" fill="#ff7f0e" stroke="#ff7f0e" stroke-width="1.9" stroke-linejoin="miter"/>
<path d="M710 1152.9L703.9 1140.5L716.2 1140.5Z" fill="#ff7f0e" stroke="#ff7f0e" stroke-width="1.9" stroke-linejoin="miter"/>
<path d="M789.5 1170L783.4 1157.6L795.6 1157.6Z" fill="#ff7f0e" stroke="#ff7f0e" stroke-width="1.9" stroke-linejoin="miter"/>
<path d="M868.9 1188.1L862.8 1175.8L875.1 1175.8Z" fill="#ff7f0e" stroke="#ff7f0e" stroke-width="1.9" stroke-linejoin="miter"/>
<path d="M948.4 1206.2L942.2 1193.8L954.5 1193.8Z" fill="#ff7f0e" stroke="#ff7f0e" stroke-width="1.9" stroke-linejoin="miter"/>
<path d="M153.9 983.9 L173.8 983.9 L193.6 983.9 L213.5 984.4 L233.4 985.3 L253.2 986.7 L273.1 989.8 L292.9 992.9 L312.8 995.7 L352.5 1002.1 L392.2 1010 L432 1019.7 L471.7 1027.1 L511.4 1034.5 L551.1 1043.8 L630.6 1060.9 L710 1076.7 L789.5 1093.9 L868.9 1111.5 L948.4 1127.7" fill="none" stroke="#2ca02c" stroke-width="3.9" stroke-dasharray="4.1 6.3" stroke-linejoin="round" stroke-linecap="butt"/>
<rect x="147.8" y="977.8" width="12.3" height="12.3" fill="#2ca02c" stroke="#2ca02c" stroke-width="1.9"/>
<rect x="167.6" y="977.8" width="12.3" height="12.3" fill="#2ca02c" stroke="#2ca02c" stroke-width="1.9"/>
<rect x="187.5" y="977.8" width="12.3" height="12.3" fill="#2ca02c" stroke="#2ca02c" stroke-width="1.9"/>
<rect x="207.3" y="978.2" width="12.3" height="12.3" fill="#2ca02c" stroke="#2ca02c" stroke-width="1.9"/>
<rect x="227.2" y="979.1" width="12.3" height="12.3" fill="#2ca02c" stroke="#2ca02c" stroke-width="1.9"/>
<rect x="247.1" y="980.6" width="12.3" height="12.3" fill="#2ca02c" stroke="#2ca02c" stroke-width="1.9"/>
<rect x="266.9" y="983.6" width="12.3" height="12.3" fill="#2ca02c" stroke="#2ca02c" stroke-width="1.9"/>
<rect x="286.8" y="986.8" width="12.3" height="12.3" fill="#2ca02c" stroke="#2ca02c" stroke-width="1.9"/>
<rect x="306.7" y="989.6" width="12.3" height="12.3" fill="#2ca02c" stroke="#2ca02c" stroke-width="1.9"/>
<rect x="346.4" y="996" width="12.3" height="12.3" fill="#2ca02c" stroke="#2ca02c" stroke-width="1.9"/>
<rect x="386.1" y="1003.9" width="12.3" height="12.3" fill="#2ca02c" stroke="#2ca02c" stroke-width="1.9"/>
<rect x="425.8" y="1013.6" width="12.3" height="12.3" fill="#2ca02c" stroke="#2ca02c" stroke-width="1.9"/>
<rect x="465.6" y="1020.9" width="12.3" height="12.3" fill="#2ca02c" stroke="#2ca02c" stroke-width="1.9"/>
<rect x="505.3" y="1028.3" width="12.3" height="12.3" fill="#2ca02c" stroke="#2ca02c" stroke-width="1.9"/>
<rect x="545" y="1037.6" width="12.3" height="12.3" fill="#2ca02c" stroke="#2ca02c" stroke-width="1.9"/>
<rect x="624.5" y="1054.8" width="12.3" height="12.3" fill="#2ca02c" stroke="#2ca02c" stroke-width="1.9"/>
<rect x="703.9" y="1070.5" width="12.3" height="12.3" fill="#2ca02c" stroke="#2ca02c" stroke-width="1.9"/>
<rect x="783.4" y="1087.8" width="12.3" height="12.3" fill="#2ca02c" stroke="#2ca02c" stroke-width="1.9"/>
<rect x="862.8" y="1105.3" width="12.3" height="12.3" fill="#2ca02c" stroke="#2ca02c" stroke-width="1.9"/>
<rect x="942.2" y="1121.5" width="12.3" height="12.3" fill="#2ca02c" stroke="#2ca02c" stroke-width="1.9"/>
<path d="M153.9 1564.5 L173.8 1564.5 L193.6 1564.5 L213.5 1564.5 L233.4 1564.5 L253.2 1564.5 L273.1 1564.5 L292.9 1564.5 L312.8 1564.5 L352.5 1565.9 L392.2 1566.7 L432 1567.8 L471.7 1569 L511.4 1569.6 L551.1 1570.5 L630.6 1571.7 L710 1572.8 L789.5 1574.3 L868.9 1575.9 L948.4 1576.8" fill="none" stroke="#d62728" stroke-width="3.9" stroke-linejoin="round" stroke-linecap="butt"/>
<circle cx="153.9" cy="1564.5" r="6.3" fill="#d62728" stroke="#d62728" stroke-width="1.9"/>
<circle cx="173.8" cy="1564.5" r="6.3" fill="#d62728" stroke="#d62728" stroke-width="1.9"/>
<circle cx="193.6" cy="1564.5" r="6.3" fill="#d62728" stroke="#d62728" stroke-width="1.9"/>
<circle cx="213.5" cy="1564.5" r="6.3" fill="#d62728" stroke="#d62728" stroke-width="1.9"/>
<circle cx="233.4" cy="1564.5" r="6.3" fill="#d62728" stroke="#d62728" stroke-width="1.9"/>
<circle cx="253.2" cy="1564.5" r="6.3" fill="#d62728" stroke="#d62728" stroke-width="1.9"/>
<circle cx="273.1" cy="1564.5" r="6.3" fill="#d62728" stroke="#d62728" stroke-width="1.9"/>
<circle cx="292.9" cy="1564.5" r="6.3" fill="#d62728" stroke="#d62728" stroke-width="1.9"/>
<circle cx="312.8" cy="1564.5" r="6.3" fill="#d62728" stroke="#d62728" stroke-width="1.9"/>
<circle cx="352.5" cy="1565.9" r="6.3" fill="#d62728" stroke="#d62728" stroke-width="1.9"/>
<circle cx="392.2" cy="1566.7" r="6.3" fill="#d62728" stroke="#d62728" stroke-width="1.9"/>
<circle cx="432" cy="1567.8" r="6.3" fill="#d62728" stroke="#d62728" stroke-width="1.9"/>
<circle cx="471.7" cy="1569" r="6.3" fill="#d62728" stroke="#d62728" stroke-width="1.9"/>
<circle cx="511.4" cy="1569.6" r="6.3" fill="#d62728" stroke="#d62728" stroke-width="1.9"/>
<circle cx="551.1" cy="1570.5" r="6.3" fill="#d62728" stroke="#d62728" stroke-width="1.9"/>
<circle cx="630.6" cy="1571.7" r="6.3" fill="#d62728" stroke="#d62728" stroke-width="1.9"/>
<circle cx="710" cy="1572.8" r="6.3" fill="#d62728" stroke="#d62728" stroke-width="1.9"/>
<circle cx="789.5" cy="1574.3" r="6.3" fill="#d62728" stroke="#d62728" stroke-width="1.9"/>
<circle cx="868.9" cy="1575.9" r="6.3" fill="#d62728" stroke="#d62728" stroke-width="1.9"/>
<circle cx="948.4" cy="1576.8" r="6.3" fill="#d62728" stroke="#d62728" stroke-width="1.9"/>
<path d="M153.9 1550.5 L173.8 1550.5 L193.6 1550.5 L213.5 1550.5 L233.4 1550.5 L253.2 1550.5 L273.1 1550.5 L292.9 1550.5 L312.8 1550.5 L352.5 1551 L392.2 1552 L432 1553.1 L471.7 1553.5 L511.4 1554 L551.1 1554.5 L630.6 1556 L710 1557.2 L789.5 1558.8 L868.9 1560.3 L948.4 1561.9" fill="none" stroke="#9467bd" stroke-width="3.9" stroke-dasharray="14.4 6.7" stroke-linejoin="round" stroke-linecap="butt"/>
<path d="M153.9 1556.7L147.8 1544.3L160.1 1544.3Z" fill="#9467bd" stroke="#9467bd" stroke-width="1.9" stroke-linejoin="miter"/>
<path d="M173.8 1556.7L167.6 1544.3L179.9 1544.3Z" fill="#9467bd" stroke="#9467bd" stroke-width="1.9" stroke-linejoin="miter"/>
<path d="M193.6 1556.7L187.5 1544.3L199.8 1544.3Z" fill="#9467bd" stroke="#9467bd" stroke-width="1.9" stroke-linejoin="miter"/>
<path d="M213.5 1556.7L207.3 1544.3L219.6 1544.3Z" fill="#9467bd" stroke="#9467bd" stroke-width="1.9" stroke-linejoin="miter"/>
<path d="M233.4 1556.7L227.2 1544.3L239.5 1544.3Z" fill="#9467bd" stroke="#9467bd" stroke-width="1.9" stroke-linejoin="miter"/>
<path d="M253.2 1556.7L247.1 1544.3L259.4 1544.3Z" fill="#9467bd" stroke="#9467bd" stroke-width="1.9" stroke-linejoin="miter"/>
<path d="M273.1 1556.7L266.9 1544.3L279.2 1544.3Z" fill="#9467bd" stroke="#9467bd" stroke-width="1.9" stroke-linejoin="miter"/>
<path d="M292.9 1556.7L286.8 1544.3L299.1 1544.3Z" fill="#9467bd" stroke="#9467bd" stroke-width="1.9" stroke-linejoin="miter"/>
<path d="M312.8 1556.7L306.7 1544.3L318.9 1544.3Z" fill="#9467bd" stroke="#9467bd" stroke-width="1.9" stroke-linejoin="miter"/>
<path d="M352.5 1557.2L346.4 1544.8L358.7 1544.8Z" fill="#9467bd" stroke="#9467bd" stroke-width="1.9" stroke-linejoin="miter"/>
<path d="M392.2 1558.2L386.1 1545.8L398.4 1545.8Z" fill="#9467bd" stroke="#9467bd" stroke-width="1.9" stroke-linejoin="miter"/>
<path d="M432 1559.2L425.8 1546.9L438.1 1546.9Z" fill="#9467bd" stroke="#9467bd" stroke-width="1.9" stroke-linejoin="miter"/>
<path d="M471.7 1559.7L465.6 1547.3L477.9 1547.3Z" fill="#9467bd" stroke="#9467bd" stroke-width="1.9" stroke-linejoin="miter"/>
<path d="M511.4 1560.2L505.3 1547.8L517.6 1547.8Z" fill="#9467bd" stroke="#9467bd" stroke-width="1.9" stroke-linejoin="miter"/>
<path d="M551.1 1560.7L545 1548.3L557.3 1548.3Z" fill="#9467bd" stroke="#9467bd" stroke-width="1.9" stroke-linejoin="miter"/>
<path d="M630.6 1562.2L624.5 1549.8L636.8 1549.8Z" fill="#9467bd" stroke="#9467bd" stroke-width="1.9" stroke-linejoin="miter"/>
<path d="M710 1563.4L703.9 1551L716.2 1551Z" fill="#9467bd" stroke="#9467bd" stroke-width="1.9" stroke-linejoin="miter"/>
<path d="M789.5 1565L783.4 1552.6L795.6 1552.6Z" fill="#9467bd" stroke="#9467bd" stroke-width="1.9" stroke-linejoin="miter"/>
<path d="M868.9 1566.5L862.8 1554.1L875.1 1554.1Z" fill="#9467bd" stroke="#9467bd" stroke-width="1.9" stroke-linejoin="miter"/>
<path d="M948.4 1568.1L942.2 1555.8L954.5 1555.8Z" fill="#9467bd" stroke="#9467bd" stroke-width="1.9" stroke-linejoin="miter"/>
<path d="M153.9 1535.3 L173.8 1535.3 L193.6 1535.3 L213.5 1535.3 L233.4 1535.3 L253.2 1535.3 L273.1 1535.3 L292.9 1535.3 L312.8 1535.3 L352.5 1536.4 L392.2 1537.3 L432 1539.1 L471.7 1539.5 L511.4 1539.5 L551.1 1541 L630.6 1542.5 L710 1544.8 L789.5 1545.4 L868.9 1547.3 L948.4 1547.9" fill="none" stroke="#8c564b" stroke-width="3.9" stroke-dasharray="4.1 6.3" stroke-linejoin="round" stroke-linecap="butt"/>
<rect x="147.8" y="1529.1" width="12.3" height="12.3" fill="#8c564b" stroke="#8c564b" stroke-width="1.9"/>
<rect x="167.6" y="1529.1" width="12.3" height="12.3" fill="#8c564b" stroke="#8c564b" stroke-width="1.9"/>
<rect x="187.5" y="1529.1" width="12.3" height="12.3" fill="#8c564b" stroke="#8c564b" stroke-width="1.9"/>
<rect x="207.3" y="1529.1" width="12.3" height="12.3" fill="#8c564b" stroke="#8c564b" stroke-width="1.9"/>
<rect x="227.2" y="1529.1" width="12.3" height="12.3" fill="#8c564b" stroke="#8c564b" stroke-width="1.9"/>
<rect x="247.1" y="1529.1" width="12.3" height="12.3" fill="#8c564b" stroke="#8c564b" stroke-width="1.9"/>
<rect x="266.9" y="1529.1" width="12.3" height="12.3" fill="#8c564b" stroke="#8c564b" stroke-width="1.9"/>
<rect x="286.8" y="1529.1" width="12.3" height="12.3" fill="#8c564b" stroke="#8c564b" stroke-width="1.9"/>
<rect x="306.7" y="1529.1" width="12.3" height="12.3" fill="#8c564b" stroke="#8c564b" stroke-width="1.9"/>
<rect x="346.4" y="1530.2" width="12.3" height="12.3" fill="#8c564b" stroke="#8c564b" stroke-width="1.9"/>
<rect x="386.1" y="1531.1" width="12.3" height="12.3" fill="#8c564b" stroke="#8c564b" stroke-width="1.9"/>
<rect x="425.8" y="1532.9" width="12.3" height="12.3" fill="#8c564b" stroke="#8c564b" stroke-width="1.9"/>
<rect x="465.6" y="1533.3" width="12.3" height="12.3" fill="#8c564b" stroke="#8c564b" stroke-width="1.9"/>
<rect x="505.3" y="1533.3" width="12.3" height="12.3" fill="#8c564b" stroke="#8c564b" stroke-width="1.9"/>
<rect x="545" y="1534.8" width="12.3" height="12.3" fill="#8c564b" stroke="#8c564b" stroke-width="1.9"/>
<rect x="624.5" y="1536.3" width="12.3" height="12.3" fill="#8c564b" stroke="#8c564b" stroke-width="1.9"/>
<rect x="703.9" y="1538.6" width="12.3" height="12.3" fill="#8c564b" stroke="#8c564b" stroke-width="1.9"/>
<rect x="783.4" y="1539.2" width="12.3" height="12.3" fill="#8c564b" stroke="#8c564b" stroke-width="1.9"/>
<rect x="862.8" y="1541.1" width="12.3" height="12.3" fill="#8c564b" stroke="#8c564b" stroke-width="1.9"/>
<rect x="942.2" y="1541.8" width="12.3" height="12.3" fill="#8c564b" stroke="#8c564b" stroke-width="1.9"/>
<path d="M153.9 1446.8 L173.8 1446.8 L193.6 1446.8 L213.5 1446.8 L233.4 1446.8 L253.2 1446.8 L273.1 1446.8 L292.9 1447.5 L312.8 1448.2 L352.5 1449.6 L392.2 1451.6 L432 1453.7 L471.7 1455.2 L511.4 1456.7 L551.1 1458.8 L630.6 1461.9 L710 1464.6 L789.5 1468.6 L868.9 1471.7 L948.4 1475.5" fill="none" stroke="#e377c2" stroke-width="3.9" stroke-linejoin="round" stroke-linecap="butt"/>
<circle cx="153.9" cy="1446.8" r="6.3" fill="#e377c2" stroke="#e377c2" stroke-width="1.9"/>
<circle cx="173.8" cy="1446.8" r="6.3" fill="#e377c2" stroke="#e377c2" stroke-width="1.9"/>
<circle cx="193.6" cy="1446.8" r="6.3" fill="#e377c2" stroke="#e377c2" stroke-width="1.9"/>
<circle cx="213.5" cy="1446.8" r="6.3" fill="#e377c2" stroke="#e377c2" stroke-width="1.9"/>
<circle cx="233.4" cy="1446.8" r="6.3" fill="#e377c2" stroke="#e377c2" stroke-width="1.9"/>
<circle cx="253.2" cy="1446.8" r="6.3" fill="#e377c2" stroke="#e377c2" stroke-width="1.9"/>
<circle cx="273.1" cy="1446.8" r="6.3" fill="#e377c2" stroke="#e377c2" stroke-width="1.9"/>
<circle cx="292.9" cy="1447.5" r="6.3" fill="#e377c2" stroke="#e377c2" stroke-width="1.9"/>
<circle cx="312.8" cy="1448.2" r="6.3" fill="#e377c2" stroke="#e377c2" stroke-width="1.9"/>
<circle cx="352.5" cy="1449.6" r="6.3" fill="#e377c2" stroke="#e377c2" stroke-width="1.9"/>
<circle cx="392.2" cy="1451.6" r="6.3" fill="#e377c2" stroke="#e377c2" stroke-width="1.9"/>
<circle cx="432" cy="1453.7" r="6.3" fill="#e377c2" stroke="#e377c2" stroke-width="1.9"/>
<circle cx="471.7" cy="1455.2" r="6.3" fill="#e377c2" stroke="#e377c2" stroke-width="1.9"/>
<circle cx="511.4" cy="1456.7" r="6.3" fill="#e377c2" stroke="#e377c2" stroke-width="1.9"/>
<circle cx="551.1" cy="1458.8" r="6.3" fill="#e377c2" stroke="#e377c2" stroke-width="1.9"/>
<circle cx="630.6" cy="1461.9" r="6.3" fill="#e377c2" stroke="#e377c2" stroke-width="1.9"/>
<circle cx="710" cy="1464.6" r="6.3" fill="#e377c2" stroke="#e377c2" stroke-width="1.9"/>
<circle cx="789.5" cy="1468.6" r="6.3" fill="#e377c2" stroke="#e377c2" stroke-width="1.9"/>
<circle cx="868.9" cy="1471.7" r="6.3" fill="#e377c2" stroke="#e377c2" stroke-width="1.9"/>
<circle cx="948.4" cy="1475.5" r="6.3" fill="#e377c2" stroke="#e377c2" stroke-width="1.9"/>
<path d="M153.9 1440.4 L173.8 1440.4 L193.6 1440.4 L213.5 1440.4 L233.4 1440.4 L253.2 1440.4 L273.1 1440.4 L292.9 1441 L312.8 1441.8 L352.5 1444 L392.2 1445.1 L432 1446.8 L471.7 1447.5 L511.4 1448.5 L551.1 1450 L630.6 1452.8 L710 1454.5 L789.5 1457.7 L868.9 1461.5 L948.4 1464.6" fill="none" stroke="#7f7f7f" stroke-width="3.9" stroke-dasharray="14.4 6.7" stroke-linejoin="round" stroke-linecap="butt"/>
<path d="M153.9 1446.6L147.8 1434.2L160.1 1434.2Z" fill="#7f7f7f" stroke="#7f7f7f" stroke-width="1.9" stroke-linejoin="miter"/>
<path d="M173.8 1446.6L167.6 1434.2L179.9 1434.2Z" fill="#7f7f7f" stroke="#7f7f7f" stroke-width="1.9" stroke-linejoin="miter"/>
<path d="M193.6 1446.6L187.5 1434.2L199.8 1434.2Z" fill="#7f7f7f" stroke="#7f7f7f" stroke-width="1.9" stroke-linejoin="miter"/>
<path d="M213.5 1446.6L207.3 1434.2L219.6 1434.2Z" fill="#7f7f7f" stroke="#7f7f7f" stroke-width="1.9" stroke-linejoin="miter"/>
<path d="M233.4 1446.6L227.2 1434.2L239.5 1434.2Z" fill="#7f7f7f" stroke="#7f7f7f" stroke-width="1.9" stroke-linejoin="miter"/>
<path d="M253.2 1446.6L247.1 1434.2L259.4 1434.2Z" fill="#7f7f7f" stroke="#7f7f7f" stroke-width="1.9" stroke-linejoin="miter"/>
<path d="M273.1 1446.6L266.9 1434.2L279.2 1434.2Z" fill="#7f7f7f" stroke="#7f7f7f" stroke-width="1.9" stroke-linejoin="miter"/>
<path d="M292.9 1447.2L286.8 1434.8L299.1 1434.8Z" fill="#7f7f7f" stroke="#7f7f7f" stroke-width="1.9" stroke-linejoin="miter"/>
<path d="M312.8 1448L306.7 1435.6L318.9 1435.6Z" fill="#7f7f7f" stroke="#7f7f7f" stroke-width="1.9" stroke-linejoin="miter"/>
<path d="M352.5 1450.2L346.4 1437.8L358.7 1437.8Z" fill="#7f7f7f" stroke="#7f7f7f" stroke-width="1.9" stroke-linejoin="miter"/>
<path d="M392.2 1451.2L386.1 1438.9L398.4 1438.9Z" fill="#7f7f7f" stroke="#7f7f7f" stroke-width="1.9" stroke-linejoin="miter"/>
<path d="M432 1453L425.8 1440.6L438.1 1440.6Z" fill="#7f7f7f" stroke="#7f7f7f" stroke-width="1.9" stroke-linejoin="miter"/>
<path d="M471.7 1453.7L465.6 1441.3L477.9 1441.3Z" fill="#7f7f7f" stroke="#7f7f7f" stroke-width="1.9" stroke-linejoin="miter"/>
<path d="M511.4 1454.7L505.3 1442.3L517.6 1442.3Z" fill="#7f7f7f" stroke="#7f7f7f" stroke-width="1.9" stroke-linejoin="miter"/>
<path d="M551.1 1456.2L545 1443.8L557.3 1443.8Z" fill="#7f7f7f" stroke="#7f7f7f" stroke-width="1.9" stroke-linejoin="miter"/>
<path d="M630.6 1459L624.5 1446.6L636.8 1446.6Z" fill="#7f7f7f" stroke="#7f7f7f" stroke-width="1.9" stroke-linejoin="miter"/>
<path d="M710 1460.7L703.9 1448.3L716.2 1448.3Z" fill="#7f7f7f" stroke="#7f7f7f" stroke-width="1.9" stroke-linejoin="miter"/>
<path d="M789.5 1463.9L783.4 1451.5L795.6 1451.5Z" fill="#7f7f7f" stroke="#7f7f7f" stroke-width="1.9" stroke-linejoin="miter"/>
<path d="M868.9 1467.7L862.8 1455.3L875.1 1455.3Z" fill="#7f7f7f" stroke="#7f7f7f" stroke-width="1.9" stroke-linejoin="miter"/>
<path d="M948.4 1470.8L942.2 1458.4L954.5 1458.4Z" fill="#7f7f7f" stroke="#7f7f7f" stroke-width="1.9" stroke-linejoin="miter"/>
<path d="M153.9 1430 L173.8 1430 L193.6 1430 L213.5 1430 L233.4 1430 L253.2 1430.3 L273.1 1430.5 L292.9 1430.8 L312.8 1431.4 L352.5 1432 L392.2 1432.8 L432 1435.7 L471.7 1437.2 L511.4 1438.1 L551.1 1440.2 L630.6 1443.2 L710 1446.2 L789.5 1450 L868.9 1453.7 L948.4 1456.8" fill="none" stroke="#bcbd22" stroke-width="3.9" stroke-dasharray="4.1 6.3" stroke-linejoin="round" stroke-linecap="butt"/>
<rect x="147.8" y="1423.8" width="12.3" height="12.3" fill="#bcbd22" stroke="#bcbd22" stroke-width="1.9"/>
<rect x="167.6" y="1423.8" width="12.3" height="12.3" fill="#bcbd22" stroke="#bcbd22" stroke-width="1.9"/>
<rect x="187.5" y="1423.8" width="12.3" height="12.3" fill="#bcbd22" stroke="#bcbd22" stroke-width="1.9"/>
<rect x="207.3" y="1423.8" width="12.3" height="12.3" fill="#bcbd22" stroke="#bcbd22" stroke-width="1.9"/>
<rect x="227.2" y="1423.8" width="12.3" height="12.3" fill="#bcbd22" stroke="#bcbd22" stroke-width="1.9"/>
<rect x="247.1" y="1424.1" width="12.3" height="12.3" fill="#bcbd22" stroke="#bcbd22" stroke-width="1.9"/>
<rect x="266.9" y="1424.3" width="12.3" height="12.3" fill="#bcbd22" stroke="#bcbd22" stroke-width="1.9"/>
<rect x="286.8" y="1424.6" width="12.3" height="12.3" fill="#bcbd22" stroke="#bcbd22" stroke-width="1.9"/>
<rect x="306.7" y="1425.2" width="12.3" height="12.3" fill="#bcbd22" stroke="#bcbd22" stroke-width="1.9"/>
<rect x="346.4" y="1425.8" width="12.3" height="12.3" fill="#bcbd22" stroke="#bcbd22" stroke-width="1.9"/>
<rect x="386.1" y="1426.6" width="12.3" height="12.3" fill="#bcbd22" stroke="#bcbd22" stroke-width="1.9"/>
<rect x="425.8" y="1429.5" width="12.3" height="12.3" fill="#bcbd22" stroke="#bcbd22" stroke-width="1.9"/>
<rect x="465.6" y="1431" width="12.3" height="12.3" fill="#bcbd22" stroke="#bcbd22" stroke-width="1.9"/>
<rect x="505.3" y="1431.9" width="12.3" height="12.3" fill="#bcbd22" stroke="#bcbd22" stroke-width="1.9"/>
<rect x="545" y="1434" width="12.3" height="12.3" fill="#bcbd22" stroke="#bcbd22" stroke-width="1.9"/>
<rect x="624.5" y="1437" width="12.3" height="12.3" fill="#bcbd22" stroke="#bcbd22" stroke-width="1.9"/>
<rect x="703.9" y="1440" width="12.3" height="12.3" fill="#bcbd22" stroke="#bcbd22" stroke-width="1.9"/>
<rect x="783.4" y="1443.8" width="12.3" height="12.3" fill="#bcbd22" stroke="#bcbd22" stroke-width="1.9"/>
<rect x="862.8" y="1447.5" width="12.3" height="12.3" fill="#bcbd22" stroke="#bcbd22" stroke-width="1.9"/>
<rect x="942.2" y="1450.6" width="12.3" height="12.3" fill="#bcbd22" stroke="#bcbd22" stroke-width="1.9"/>
<path d="M207.6 1552.5L224.8 1543.9L224.8 1561.1Z" fill="none" stroke="#0a0ac8" stroke-width="2.0" stroke-linejoin="round"/>
<path d="M224.7 1552.4L241.9 1543.8L241.9 1561Z" fill="none" stroke="#0a0ac8" stroke-width="2.0" stroke-linejoin="round"/>
<path d="M244.2 1552.3L261.4 1543.7L261.4 1560.9Z" fill="none" stroke="#0a0ac8" stroke-width="2.0" stroke-linejoin="round"/>
<path d="M264 1552.2L281.2 1543.6L281.2 1560.8Z" fill="none" stroke="#0a0ac8" stroke-width="2.0" stroke-linejoin="round"/>
<path d="M283.9 1552.1L301.1 1543.5L301.1 1560.7Z" fill="none" stroke="#0a0ac8" stroke-width="2.0" stroke-linejoin="round"/>
<path d="M303.9 1552L321.1 1543.4L321.1 1560.6Z" fill="none" stroke="#0a0ac8" stroke-width="2.0" stroke-linejoin="round"/>
<path d="M323.7 1551.9L340.9 1543.3L340.9 1560.5Z" fill="none" stroke="#0a0ac8" stroke-width="2.0" stroke-linejoin="round"/>
<path d="M343.2 1551.8L360.4 1543.2L360.4 1560.4Z" fill="none" stroke="#0a0ac8" stroke-width="2.0" stroke-linejoin="round"/>
<path d="M363.3 1551.7L380.5 1543.1L380.5 1560.3Z" fill="none" stroke="#0a0ac8" stroke-width="2.0" stroke-linejoin="round"/>
<path d="M383.4 1551.6L400.6 1543L400.6 1560.2Z" fill="none" stroke="#0a0ac8" stroke-width="2.0" stroke-linejoin="round"/>
<path d="M403.4 1551.5L420.6 1542.9L420.6 1560.1Z" fill="none" stroke="#0a0ac8" stroke-width="2.0" stroke-linejoin="round"/>
<path d="M423.5 1551.2L440.7 1542.6L440.7 1559.8Z" fill="none" stroke="#0a0ac8" stroke-width="2.0" stroke-linejoin="round"/>
<path d="M443.5 1550.9L460.7 1542.3L460.7 1559.5Z" fill="none" stroke="#0a0ac8" stroke-width="2.0" stroke-linejoin="round"/>
<path d="M463.2 1550.2L480.4 1541.6L480.4 1558.8Z" fill="none" stroke="#0a0ac8" stroke-width="2.0" stroke-linejoin="round"/>
<path d="M482.5 1550L499.7 1541.4L499.7 1558.6Z" fill="none" stroke="#0a0ac8" stroke-width="2.0" stroke-linejoin="round"/>
<path d="M503 1549.1L520.2 1540.5L520.2 1557.7Z" fill="none" stroke="#0a0ac8" stroke-width="2.0" stroke-linejoin="round"/>
<path d="M522.7 1548.5L539.9 1539.9L539.9 1557.1Z" fill="none" stroke="#0a0ac8" stroke-width="2.0" stroke-linejoin="round"/>
<path d="M542.7 1547.6L559.9 1539L559.9 1556.2Z" fill="none" stroke="#0a0ac8" stroke-width="2.0" stroke-linejoin="round"/>
<path d="M581.7 1548.5L598.9 1539.9L598.9 1557.1Z" fill="none" stroke="#0a0ac8" stroke-width="2.0" stroke-linejoin="round"/>
<path d="M620.5 1548.5L637.7 1539.9L637.7 1557.1Z" fill="none" stroke="#0a0ac8" stroke-width="2.0" stroke-linejoin="round"/>
<path d="M661.4 1547L678.6 1538.4L678.6 1555.6Z" fill="none" stroke="#0a0ac8" stroke-width="2.0" stroke-linejoin="round"/>
<path d="M700.4 1547.9L717.6 1539.3L717.6 1556.5Z" fill="none" stroke="#0a0ac8" stroke-width="2.0" stroke-linejoin="round"/>
<path d="M740.4 1547.9L757.6 1539.3L757.6 1556.5Z" fill="none" stroke="#0a0ac8" stroke-width="2.0" stroke-linejoin="round"/>
<path d="M779.9 1546.4L797.1 1537.8L797.1 1555Z" fill="none" stroke="#0a0ac8" stroke-width="2.0" stroke-linejoin="round"/>
<path d="M820.1 1547.3L837.3 1538.7L837.3 1555.9Z" fill="none" stroke="#0a0ac8" stroke-width="2.0" stroke-linejoin="round"/>
<path d="M859.5 1547.9L876.7 1539.3L876.7 1556.5Z" fill="none" stroke="#0a0ac8" stroke-width="2.0" stroke-linejoin="round"/>
<path d="M899.4 1547L916.6 1538.4L916.6 1555.6Z" fill="none" stroke="#0a0ac8" stroke-width="2.0" stroke-linejoin="round"/>
<path d="M939.4 1547.9L956.6 1539.3L956.6 1556.5Z" fill="none" stroke="#0a0ac8" stroke-width="2.0" stroke-linejoin="round"/>
<path d="M227.7 1406.8L209.7 1397.8L209.7 1415.8Z" fill="none" stroke="#ff0000" stroke-width="2.3" stroke-linejoin="round"/>
<path d="M244.8 1407.3L226.8 1398.3L226.8 1416.3Z" fill="none" stroke="#ff0000" stroke-width="2.3" stroke-linejoin="round"/>
<path d="M264.3 1407.7L246.3 1398.7L246.3 1416.7Z" fill="none" stroke="#ff0000" stroke-width="2.3" stroke-linejoin="round"/>
<path d="M284.1 1408.2L266.1 1399.2L266.1 1417.2Z" fill="none" stroke="#ff0000" stroke-width="2.3" stroke-linejoin="round"/>
<path d="M304 1408.6L286 1399.6L286 1417.6Z" fill="none" stroke="#ff0000" stroke-width="2.3" stroke-linejoin="round"/>
<path d="M324 1409.1L306 1400.1L306 1418.1Z" fill="none" stroke="#ff0000" stroke-width="2.3" stroke-linejoin="round"/>
<path d="M343.8 1409.6L325.8 1400.6L325.8 1418.6Z" fill="none" stroke="#ff0000" stroke-width="2.3" stroke-linejoin="round"/>
<path d="M363.3 1410L345.3 1401L345.3 1419Z" fill="none" stroke="#ff0000" stroke-width="2.3" stroke-linejoin="round"/>
<path d="M383.4 1410.5L365.4 1401.5L365.4 1419.5Z" fill="none" stroke="#ff0000" stroke-width="2.3" stroke-linejoin="round"/>
<path d="M403.5 1410.9L385.5 1401.9L385.5 1419.9Z" fill="none" stroke="#ff0000" stroke-width="2.3" stroke-linejoin="round"/>
<path d="M423.5 1411.4L405.5 1402.4L405.5 1420.4Z" fill="none" stroke="#ff0000" stroke-width="2.3" stroke-linejoin="round"/>
<path d="M443.6 1413.1L425.6 1404.1L425.6 1422.1Z" fill="none" stroke="#ff0000" stroke-width="2.3" stroke-linejoin="round"/>
<path d="M463.6 1413.7L445.6 1404.7L445.6 1422.7Z" fill="none" stroke="#ff0000" stroke-width="2.3" stroke-linejoin="round"/>
<path d="M483.3 1414.6L465.3 1405.6L465.3 1423.6Z" fill="none" stroke="#ff0000" stroke-width="2.3" stroke-linejoin="round"/>
<path d="M502.6 1415.5L484.6 1406.5L484.6 1424.5Z" fill="none" stroke="#ff0000" stroke-width="2.3" stroke-linejoin="round"/>
<path d="M523.1 1416.7L505.1 1407.7L505.1 1425.7Z" fill="none" stroke="#ff0000" stroke-width="2.3" stroke-linejoin="round"/>
<path d="M542.8 1416.9L524.8 1407.9L524.8 1425.9Z" fill="none" stroke="#ff0000" stroke-width="2.3" stroke-linejoin="round"/>
<path d="M562.8 1418.2L544.8 1409.2L544.8 1427.2Z" fill="none" stroke="#ff0000" stroke-width="2.3" stroke-linejoin="round"/>
<path d="M601.8 1420L583.8 1411L583.8 1429Z" fill="none" stroke="#ff0000" stroke-width="2.3" stroke-linejoin="round"/>
<path d="M640.6 1423L622.6 1414L622.6 1432Z" fill="none" stroke="#ff0000" stroke-width="2.3" stroke-linejoin="round"/>
<path d="M681.5 1424.2L663.5 1415.2L663.5 1433.2Z" fill="none" stroke="#ff0000" stroke-width="2.3" stroke-linejoin="round"/>
<path d="M720.5 1426L702.5 1417L702.5 1435Z" fill="none" stroke="#ff0000" stroke-width="2.3" stroke-linejoin="round"/>
<path d="M760.5 1428.2L742.5 1419.2L742.5 1437.2Z" fill="none" stroke="#ff0000" stroke-width="2.3" stroke-linejoin="round"/>
<path d="M800 1429.1L782 1420.1L782 1438.1Z" fill="none" stroke="#ff0000" stroke-width="2.3" stroke-linejoin="round"/>
<path d="M840.2 1431.3L822.2 1422.3L822.2 1440.3Z" fill="none" stroke="#ff0000" stroke-width="2.3" stroke-linejoin="round"/>
<path d="M879.6 1433.5L861.6 1424.5L861.6 1442.5Z" fill="none" stroke="#ff0000" stroke-width="2.3" stroke-linejoin="round"/>
<path d="M919.5 1435L901.5 1426L901.5 1444Z" fill="none" stroke="#ff0000" stroke-width="2.3" stroke-linejoin="round"/>
<path d="M959.5 1436.6L941.5 1427.6L941.5 1445.6Z" fill="none" stroke="#ff0000" stroke-width="2.3" stroke-linejoin="round"/>
<path d="M434.2 1537L423.3 1558.5L445 1558.5Z" fill="#ff0000"/>
</g>
<path d="M432 1559.2L425.8 1546.9L438.1 1546.9Z" fill="#9467bd" stroke="#9467bd" stroke-width="1.9" stroke-linejoin="miter"/>
<rect x="425.8" y="1532.9" width="12.3" height="12.3" fill="#8c564b" stroke="#8c564b" stroke-width="1.9"/>
<rect x="114.3" y="954.1" width="876.8" height="652" fill="none" stroke="#000" stroke-width="1.6"/>
<line x1="153.9" y1="1606.1" x2="153.9" y2="1613.1" stroke="#000" stroke-width="1.6"/>
<g transform="translate(153.9 1644.9) scale(1.03 1.07)"><text x="0" y="0" font-family='"Liberation Serif", serif' font-size="33" text-anchor="middle">0</text></g>
<line x1="312.8" y1="1606.1" x2="312.8" y2="1613.1" stroke="#000" stroke-width="1.6"/>
<g transform="translate(312.8 1644.9) scale(1.03 1.07)"><text x="0" y="0" font-family='"Liberation Serif", serif' font-size="33" text-anchor="middle">200</text></g>
<line x1="471.7" y1="1606.1" x2="471.7" y2="1613.1" stroke="#000" stroke-width="1.6"/>
<g transform="translate(471.7 1644.9) scale(1.03 1.07)"><text x="0" y="0" font-family='"Liberation Serif", serif' font-size="33" text-anchor="middle">400</text></g>
<line x1="630.6" y1="1606.1" x2="630.6" y2="1613.1" stroke="#000" stroke-width="1.6"/>
<g transform="translate(630.6 1644.9) scale(1.03 1.07)"><text x="0" y="0" font-family='"Liberation Serif", serif' font-size="33" text-anchor="middle">600</text></g>
<line x1="789.5" y1="1606.1" x2="789.5" y2="1613.1" stroke="#000" stroke-width="1.6"/>
<g transform="translate(789.5 1644.9) scale(1.03 1.07)"><text x="0" y="0" font-family='"Liberation Serif", serif' font-size="33" text-anchor="middle">800</text></g>
<line x1="948.4" y1="1606.1" x2="948.4" y2="1613.1" stroke="#000" stroke-width="1.6"/>
<g transform="translate(948.4 1644.9) scale(1.03 1.07)"><text x="0" y="0" font-family='"Liberation Serif", serif' font-size="33" text-anchor="middle">1000</text></g>
<line x1="107.3" y1="1539.2" x2="114.3" y2="1539.2" stroke="#000" stroke-width="1.6"/>
<g transform="translate(99.3 1551.4) scale(1.03 1.07)"><text x="0" y="0" font-family='"Liberation Serif", serif' font-size="33" text-anchor="end">100</text></g>
<line x1="107.3" y1="1426.3" x2="114.3" y2="1426.3" stroke="#000" stroke-width="1.6"/>
<g transform="translate(99.3 1438.5) scale(1.03 1.07)"><text x="0" y="0" font-family='"Liberation Serif", serif' font-size="33" text-anchor="end">150</text></g>
<line x1="107.3" y1="1313.4" x2="114.3" y2="1313.4" stroke="#000" stroke-width="1.6"/>
<g transform="translate(99.3 1325.6) scale(1.03 1.07)"><text x="0" y="0" font-family='"Liberation Serif", serif' font-size="33" text-anchor="end">200</text></g>
<line x1="107.3" y1="1200.5" x2="114.3" y2="1200.5" stroke="#000" stroke-width="1.6"/>
<g transform="translate(99.3 1212.7) scale(1.03 1.07)"><text x="0" y="0" font-family='"Liberation Serif", serif' font-size="33" text-anchor="end">250</text></g>
<line x1="107.3" y1="1087.6" x2="114.3" y2="1087.6" stroke="#000" stroke-width="1.6"/>
<g transform="translate(99.3 1099.8) scale(1.03 1.07)"><text x="0" y="0" font-family='"Liberation Serif", serif' font-size="33" text-anchor="end">300</text></g>
<line x1="107.3" y1="974.7" x2="114.3" y2="974.7" stroke="#000" stroke-width="1.6"/>
<g transform="translate(99.3 986.9) scale(1.03 1.07)"><text x="0" y="0" font-family='"Liberation Serif", serif' font-size="33" text-anchor="end">350</text></g>
<text x="437" y="1686.6" font-family='"Liberation Serif", serif' font-size="33" textLength="232.6" lengthAdjust="spacingAndGlyphs">Temperature [K]</text>
<g transform="translate(34 1444.9) rotate(-90)"><text x="0" y="0" font-family='"Liberation Serif", serif' font-size="33" textLength="325.8" lengthAdjust="spacingAndGlyphs">Elastic constants [GPa]</text></g>
<rect x="108" y="759.4" width="883.6" height="189.8" rx="6" ry="6" fill="#ffffff" fill-opacity="0.8" stroke="#cccccc" stroke-opacity="0.8" stroke-width="1.6"/>
<line x1="122" y1="781.1" x2="196.9" y2="781.1" stroke="#1f77b4" stroke-width="3.9"/>
<circle cx="159.3" cy="781.1" r="5.8" fill="#1f77b4" stroke="#1f77b4" stroke-width="1.9"/>
<line x1="124.2" y1="830.1" x2="194.9" y2="830.1" stroke="#ff7f0e" stroke-width="3.9" stroke-dasharray="14.4 6.7"/>
<path d="M159.3 836.2L153.2 824L165.5 824Z" fill="#ff7f0e" stroke="#ff7f0e" stroke-width="1.9" stroke-linejoin="miter"/>
<line x1="124" y1="879.1" x2="196.9" y2="879.1" stroke="#2ca02c" stroke-width="3.9" stroke-dasharray="4.1 6.3"/>
<rect x="153.2" y="873" width="12.3" height="12.3" fill="#2ca02c" stroke="#2ca02c" stroke-width="1.9"/>
<path d="M163.4 918.2L153.7 937.6L173.1 937.6Z" fill="none" stroke="#8e9093" stroke-width="2.4" stroke-linejoin="round"/>
<text x="221.1" y="793.3" font-family='"Liberation Serif", serif' font-size="33" text-anchor="start" font-style="italic">C</text>
<text x="244.2" y="798.3" font-family='"Liberation Serif", serif' font-size="24.5" text-anchor="start">11</text>
<text x="276.8" y="793.3" font-family='"Liberation Serif", serif' font-size="33" textLength="122.7" lengthAdjust="spacingAndGlyphs">P=0 GPa</text>
<text x="221.1" y="842.3" font-family='"Liberation Serif", serif' font-size="33" text-anchor="start" font-style="italic">C</text>
<text x="244.2" y="847.3" font-family='"Liberation Serif", serif' font-size="24.5" text-anchor="start">11</text>
<text x="276.8" y="842.3" font-family='"Liberation Serif", serif' font-size="33" textLength="122.7" lengthAdjust="spacingAndGlyphs">P=4 GPa</text>
<text x="221.1" y="891.3" font-family='"Liberation Serif", serif' font-size="33" text-anchor="start" font-style="italic">C</text>
<text x="244.2" y="896.3" font-family='"Liberation Serif", serif' font-size="24.5" text-anchor="start">11</text>
<text x="276.8" y="891.3" font-family='"Liberation Serif", serif' font-size="33" textLength="122.7" lengthAdjust="spacingAndGlyphs">P=8 GPa</text>
<text x="221.1" y="940.1" font-family='"Liberation Serif", serif' font-size="33" text-anchor="start" font-style="italic">C</text>
<text x="244.2" y="945.1" font-family='"Liberation Serif", serif' font-size="24.5" text-anchor="start">11</text>
<text x="276.8" y="940.1" font-family='"Liberation Serif", serif' font-size="33" textLength="57.8" lengthAdjust="spacingAndGlyphs">Exp.</text>
<line x1="418.2" y1="778.9" x2="493.7" y2="778.9" stroke="#d62728" stroke-width="3.9"/>
<circle cx="456" cy="778.9" r="5.8" fill="#d62728" stroke="#d62728" stroke-width="1.9"/>
<line x1="420.4" y1="827.9" x2="491.7" y2="827.9" stroke="#9467bd" stroke-width="3.9" stroke-dasharray="14.4 6.7"/>
<path d="M456 834L449.9 821.8L462.1 821.8Z" fill="#9467bd" stroke="#9467bd" stroke-width="1.9" stroke-linejoin="miter"/>
<line x1="420.2" y1="876.9" x2="493.7" y2="876.9" stroke="#8c564b" stroke-width="3.9" stroke-dasharray="4.1 6.3"/>
<rect x="449.9" y="870.8" width="12.3" height="12.3" fill="#8c564b" stroke="#8c564b" stroke-width="1.9"/>
<path d="M446.3 925.7L463.3 917.2L463.3 934.2Z" fill="none" stroke="#0a0ac8" stroke-width="1.9" stroke-linejoin="round"/>
<text x="510.8" y="791.1" font-family='"Liberation Serif", serif' font-size="33" text-anchor="start" font-style="italic">C</text>
<text x="533.9" y="796.1" font-family='"Liberation Serif", serif' font-size="24.5" text-anchor="start">12</text>
<text x="566.5" y="791.1" font-family='"Liberation Serif", serif' font-size="33" textLength="124.3" lengthAdjust="spacingAndGlyphs">P=0 GPa</text>
<text x="510.8" y="840.1" font-family='"Liberation Serif", serif' font-size="33" text-anchor="start" font-style="italic">C</text>
<text x="533.9" y="845.1" font-family='"Liberation Serif", serif' font-size="24.5" text-anchor="start">12</text>
<text x="566.5" y="840.1" font-family='"Liberation Serif", serif' font-size="33" textLength="124.3" lengthAdjust="spacingAndGlyphs">P=4 GPa</text>
<text x="510.8" y="889.1" font-family='"Liberation Serif", serif' font-size="33" text-anchor="start" font-style="italic">C</text>
<text x="533.9" y="894.1" font-family='"Liberation Serif", serif' font-size="24.5" text-anchor="start">12</text>
<text x="566.5" y="889.1" font-family='"Liberation Serif", serif' font-size="33" textLength="124.3" lengthAdjust="spacingAndGlyphs">P=8 GPa</text>
<text x="510.8" y="937.9" font-family='"Liberation Serif", serif' font-size="33" text-anchor="start" font-style="italic">C</text>
<text x="533.9" y="942.9" font-family='"Liberation Serif", serif' font-size="24.5" text-anchor="start">12</text>
<text x="566.5" y="937.9" font-family='"Liberation Serif", serif' font-size="33" textLength="59.4" lengthAdjust="spacingAndGlyphs">Exp.</text>
<line x1="701.6" y1="777.9" x2="776" y2="777.9" stroke="#e377c2" stroke-width="3.9"/>
<circle cx="738.8" cy="777.9" r="5.8" fill="#e377c2" stroke="#e377c2" stroke-width="1.9"/>
<line x1="703.8" y1="826.9" x2="774" y2="826.9" stroke="#7f7f7f" stroke-width="3.9" stroke-dasharray="14.4 6.7"/>
<path d="M738.8 833L732.6 820.8L744.9 820.8Z" fill="#7f7f7f" stroke="#7f7f7f" stroke-width="1.9" stroke-linejoin="miter"/>
<line x1="703.6" y1="875.9" x2="776" y2="875.9" stroke="#bcbd22" stroke-width="3.9" stroke-dasharray="4.1 6.3"/>
<rect x="732.6" y="869.8" width="12.3" height="12.3" fill="#bcbd22" stroke="#bcbd22" stroke-width="1.9"/>
<path d="M748.7 924.7L731.1 915.9L731.1 933.5Z" fill="none" stroke="#ff0000" stroke-width="2.4" stroke-linejoin="round"/>
<text x="798.7" y="790.1" font-family='"Liberation Serif", serif' font-size="33" text-anchor="start" font-style="italic">C</text>
<text x="821.8" y="795.1" font-family='"Liberation Serif", serif' font-size="24.5" text-anchor="start">44</text>
<text x="854.4" y="790.1" font-family='"Liberation Serif", serif' font-size="33" textLength="122.9" lengthAdjust="spacingAndGlyphs">P=0 GPa</text>
<text x="798.7" y="839.1" font-family='"Liberation Serif", serif' font-size="33" text-anchor="start" font-style="italic">C</text>
<text x="821.8" y="844.1" font-family='"Liberation Serif", serif' font-size="24.5" text-anchor="start">44</text>
<text x="854.4" y="839.1" font-family='"Liberation Serif", serif' font-size="33" textLength="122.9" lengthAdjust="spacingAndGlyphs">P=4 GPa</text>
<text x="798.7" y="888.1" font-family='"Liberation Serif", serif' font-size="33" text-anchor="start" font-style="italic">C</text>
<text x="821.8" y="893.1" font-family='"Liberation Serif", serif' font-size="24.5" text-anchor="start">44</text>
<text x="854.4" y="888.1" font-family='"Liberation Serif", serif' font-size="33" textLength="122.9" lengthAdjust="spacingAndGlyphs">P=8 GPa</text>
<text x="798.7" y="936.9" font-family='"Liberation Serif", serif' font-size="33" text-anchor="start" font-style="italic">C</text>
<text x="821.8" y="941.9" font-family='"Liberation Serif", serif' font-size="24.5" text-anchor="start">44</text>
<text x="854.4" y="936.9" font-family='"Liberation Serif", serif' font-size="33" textLength="58" lengthAdjust="spacingAndGlyphs">Exp.</text>
</g>
<text transform="translate(-0.4 36.2) scale(0.87 1.03)" x="0" y="0" font-family='"Liberation Sans", sans-serif' font-size="49" style="stroke:#000;stroke-width:0.7px">a</text>
<text x="29.8" y="32.8" font-family='"Liberation Sans", sans-serif' font-size="46.3" text-anchor="start" style="stroke:#000;stroke-width:0.7px">)</text>
<text x="-2" y="844.8" font-family='"Liberation Sans", sans-serif' font-size="49" text-anchor="start" style="stroke:#000;stroke-width:0.7px">b</text>
<text x="29.8" y="841.7" font-family='"Liberation Sans", sans-serif' font-size="45.6" text-anchor="start" style="stroke:#000;stroke-width:0.7px">)</text>
</svg>
</body></html>
